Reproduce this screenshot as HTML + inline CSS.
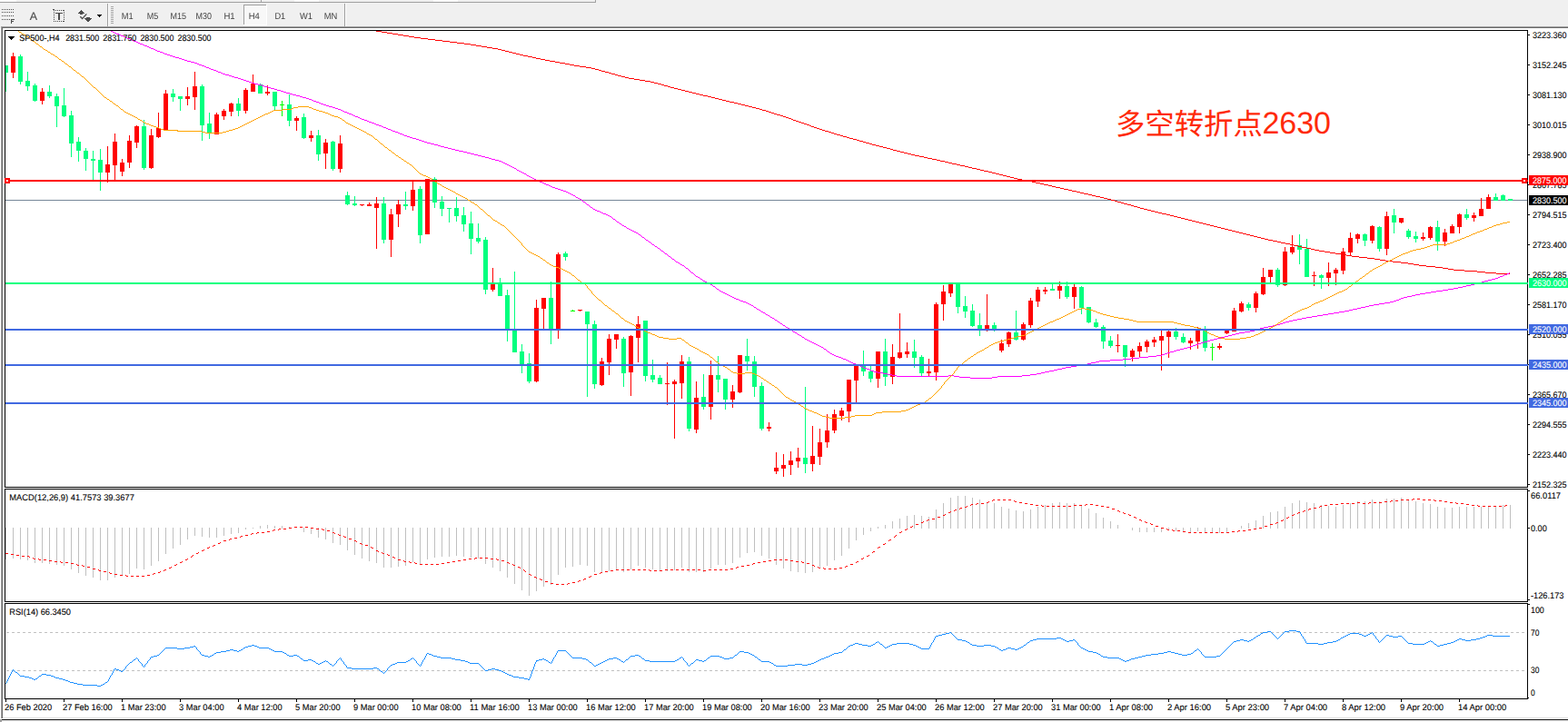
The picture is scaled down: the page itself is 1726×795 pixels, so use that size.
<!DOCTYPE html>
<html><head><meta charset="utf-8"><title>SP500 H4</title>
<style>html,body{margin:0;padding:0;background:#f0f0f0;overflow:hidden}body{width:1726px;height:795px;font-family:"Liberation Sans",sans-serif}svg{display:block}</style>
</head><body>
<svg width="1726" height="795" viewBox="0 0 1726 795" shape-rendering="crispEdges" font-family="Liberation Sans, sans-serif" text-rendering="geometricPrecision">
<rect x="0" y="0" width="1726" height="795" fill="#f0f0f0"/>
<rect x="0" y="0" width="18" height="2" fill="#fbfbfb"/>
<rect x="324" y="0" width="27" height="2" fill="#fbfbfb"/>
<rect x="477" y="0" width="27" height="2" fill="#fbfbfb"/>
<rect x="0" y="2" width="656" height="1" fill="#a0a0a0"/>
<rect x="287" y="0" width="1" height="3" fill="#a0a0a0"/>
<rect x="655" y="0" width="1" height="3" fill="#a0a0a0"/>
<rect x="0" y="31" width="1726" height="760" fill="#ffffff"/>
<rect x="0" y="29" width="1726" height="1" fill="#a0a0a0"/>
<rect x="0" y="30" width="1726" height="1" fill="#696969"/>
<rect x="1" y="30" width="1" height="761" fill="#a0a0a0"/>
<rect x="2" y="31" width="1" height="760" fill="#696969"/>
<rect x="0" y="29" width="1" height="2" fill="#f0f0f0"/>
<rect x="3" y="790" width="1723" height="1" fill="#e3e3e3"/>
<rect x="0" y="791" width="1726" height="1" fill="#ffffff"/>
<rect x="0" y="792" width="1726" height="1" fill="#101010"/>
<rect x="0" y="793" width="1726" height="2" fill="#f0f0f0"/>
<rect x="0" y="792" width="2" height="3" fill="#a0a0a0"/>
<defs><filter id="gs" x="0" y="0" width="100%" height="100%" color-interpolation-filters="sRGB"><feColorMatrix type="saturate" values="0"/></filter></defs><g filter="url(#gs)">
<rect x="2" y="10" width="1" height="1" fill="#4d4d4d"/>
<rect x="4" y="10" width="1" height="1" fill="#4d4d4d"/>
<rect x="6" y="10" width="1" height="1" fill="#4d4d4d"/>
<rect x="8" y="10" width="1" height="1" fill="#4d4d4d"/>
<rect x="10" y="10" width="1" height="1" fill="#4d4d4d"/>
<rect x="12" y="10" width="1" height="1" fill="#4d4d4d"/>
<rect x="14" y="10" width="1" height="1" fill="#4d4d4d"/>
<rect x="2" y="13" width="1" height="1" fill="#4d4d4d"/>
<rect x="4" y="13" width="1" height="1" fill="#4d4d4d"/>
<rect x="6" y="13" width="1" height="1" fill="#4d4d4d"/>
<rect x="8" y="13" width="1" height="1" fill="#4d4d4d"/>
<rect x="10" y="13" width="1" height="1" fill="#4d4d4d"/>
<rect x="12" y="13" width="1" height="1" fill="#4d4d4d"/>
<rect x="14" y="13" width="1" height="1" fill="#4d4d4d"/>
<rect x="2" y="17" width="1" height="1" fill="#4d4d4d"/>
<rect x="4" y="17" width="1" height="1" fill="#4d4d4d"/>
<rect x="6" y="17" width="1" height="1" fill="#4d4d4d"/>
<rect x="8" y="17" width="1" height="1" fill="#4d4d4d"/>
<rect x="10" y="17" width="1" height="1" fill="#4d4d4d"/>
<rect x="12" y="17" width="1" height="1" fill="#4d4d4d"/>
<rect x="14" y="17" width="1" height="1" fill="#4d4d4d"/>
<rect x="2" y="21" width="1" height="1" fill="#4d4d4d"/>
<rect x="4" y="21" width="1" height="1" fill="#4d4d4d"/>
<rect x="6" y="21" width="1" height="1" fill="#4d4d4d"/>
<rect x="8" y="21" width="1" height="1" fill="#4d4d4d"/>
<rect x="10" y="21" width="1" height="1" fill="#4d4d4d"/>
<rect x="12" y="21" width="1" height="5" fill="#4d4d4d"/>
<rect x="12" y="21" width="4" height="1" fill="#4d4d4d"/>
<rect x="12" y="23" width="3" height="1" fill="#4d4d4d"/>
<text x="32.7" y="22" font-size="12.4" fill="#4d4d4d" stroke="#4d4d4d" stroke-width="0.15" shape-rendering="auto">A</text>
<rect x="59" y="11" width="1" height="1" fill="#4d4d4d"/>
<rect x="59" y="23" width="1" height="1" fill="#4d4d4d"/>
<rect x="61" y="11" width="1" height="1" fill="#4d4d4d"/>
<rect x="61" y="23" width="1" height="1" fill="#4d4d4d"/>
<rect x="63" y="11" width="1" height="1" fill="#4d4d4d"/>
<rect x="63" y="23" width="1" height="1" fill="#4d4d4d"/>
<rect x="65" y="11" width="1" height="1" fill="#4d4d4d"/>
<rect x="65" y="23" width="1" height="1" fill="#4d4d4d"/>
<rect x="67" y="11" width="1" height="1" fill="#4d4d4d"/>
<rect x="67" y="23" width="1" height="1" fill="#4d4d4d"/>
<rect x="69" y="11" width="1" height="1" fill="#4d4d4d"/>
<rect x="69" y="23" width="1" height="1" fill="#4d4d4d"/>
<rect x="59" y="11" width="1" height="1" fill="#4d4d4d"/>
<rect x="70" y="11" width="1" height="1" fill="#4d4d4d"/>
<rect x="59" y="13" width="1" height="1" fill="#4d4d4d"/>
<rect x="70" y="13" width="1" height="1" fill="#4d4d4d"/>
<rect x="59" y="15" width="1" height="1" fill="#4d4d4d"/>
<rect x="70" y="15" width="1" height="1" fill="#4d4d4d"/>
<rect x="59" y="17" width="1" height="1" fill="#4d4d4d"/>
<rect x="70" y="17" width="1" height="1" fill="#4d4d4d"/>
<rect x="59" y="19" width="1" height="1" fill="#4d4d4d"/>
<rect x="70" y="19" width="1" height="1" fill="#4d4d4d"/>
<rect x="59" y="21" width="1" height="1" fill="#4d4d4d"/>
<rect x="70" y="21" width="1" height="1" fill="#4d4d4d"/>
<rect x="59" y="23" width="1" height="1" fill="#4d4d4d"/>
<rect x="70" y="23" width="1" height="1" fill="#4d4d4d"/>
<rect x="58" y="10" width="2" height="1" fill="#4d4d4d"/>
<rect x="61" y="14" width="8" height="1" fill="#4d4d4d"/>
<rect x="64" y="15" width="2" height="7" fill="#4d4d4d"/>
<rect x="89" y="11" width="1" height="1" fill="#4d4d4d"/>
<rect x="88" y="12" width="3" height="1" fill="#4d4d4d"/>
<rect x="87" y="13" width="5" height="1" fill="#4d4d4d"/>
<rect x="86" y="14" width="7" height="1" fill="#4d4d4d"/>
<rect x="88" y="15" width="3" height="1" fill="#4d4d4d"/>
<rect x="95" y="19" width="4" height="1" fill="#4d4d4d"/>
<rect x="93" y="20" width="8" height="1" fill="#4d4d4d"/>
<rect x="94" y="21" width="6" height="1" fill="#4d4d4d"/>
<rect x="95" y="22" width="4" height="1" fill="#4d4d4d"/>
<rect x="96" y="23" width="2" height="1" fill="#4d4d4d"/>
<polyline points="88.3,18.3 90.6,20.6 95.3,15.4" fill="none" stroke="#4d4d4d" stroke-width="1.4" shape-rendering="auto"/>
<rect x="107" y="16" width="5" height="1" fill="#000"/>
<rect x="108" y="17" width="3" height="1" fill="#000"/>
<rect x="109" y="18" width="1" height="1" fill="#000"/>
<rect x="118" y="4" width="1" height="25" fill="#a0a0a0"/>
<rect x="119" y="4" width="1" height="25" fill="#ffffff"/>
<rect x="122" y="7" width="3" height="1" fill="#a8a8a8"/>
<rect x="122" y="9" width="3" height="1" fill="#a8a8a8"/>
<rect x="122" y="11" width="3" height="1" fill="#a8a8a8"/>
<rect x="122" y="13" width="3" height="1" fill="#a8a8a8"/>
<rect x="122" y="15" width="3" height="1" fill="#a8a8a8"/>
<rect x="122" y="17" width="3" height="1" fill="#a8a8a8"/>
<rect x="122" y="19" width="3" height="1" fill="#a8a8a8"/>
<rect x="122" y="21" width="3" height="1" fill="#a8a8a8"/>
<rect x="122" y="23" width="3" height="1" fill="#a8a8a8"/>
<rect x="122" y="25" width="3" height="1" fill="#a8a8a8"/>
<rect x="268" y="5" width="26" height="23" fill="#f8f8f8"/>
<rect x="268" y="5" width="26" height="1" fill="#a0a0a0"/>
<rect x="268" y="5" width="1" height="23" fill="#a0a0a0"/>
<rect x="293" y="5" width="1" height="23" fill="#ffffff"/>
<rect x="268" y="27" width="26" height="1" fill="#ffffff"/>
<text x="133.7" y="21" font-size="10" fill="#404040" stroke="#404040" stroke-width="0" textLength="12.9" lengthAdjust="spacingAndGlyphs" >M1</text>
<text x="161.7" y="21" font-size="10" fill="#404040" stroke="#404040" stroke-width="0" textLength="12.5" lengthAdjust="spacingAndGlyphs" >M5</text>
<text x="187.5" y="21" font-size="10" fill="#404040" stroke="#404040" stroke-width="0" textLength="17.5" lengthAdjust="spacingAndGlyphs" >M15</text>
<text x="215.6" y="21" font-size="10" fill="#404040" stroke="#404040" stroke-width="0" textLength="17.4" lengthAdjust="spacingAndGlyphs" >M30</text>
<text x="246.4" y="21" font-size="10" fill="#404040" stroke="#404040" stroke-width="0" textLength="12.2" lengthAdjust="spacingAndGlyphs" >H1</text>
<text x="273.7" y="21" font-size="10" fill="#404040" stroke="#404040" stroke-width="0" textLength="12.1" lengthAdjust="spacingAndGlyphs" >H4</text>
<text x="302.4" y="21" font-size="10" fill="#404040" stroke="#404040" stroke-width="0" textLength="11.8" lengthAdjust="spacingAndGlyphs" >D1</text>
<text x="330" y="21" font-size="10" fill="#404040" stroke="#404040" stroke-width="0" textLength="14" lengthAdjust="spacingAndGlyphs" >W1</text>
<text x="356.7" y="21" font-size="10" fill="#404040" stroke="#404040" stroke-width="0" textLength="14.6" lengthAdjust="spacingAndGlyphs" >MN</text>
<rect x="379" y="4" width="1" height="25" fill="#a0a0a0"/>
<rect x="380" y="4" width="1" height="25" fill="#ffffff"/>
</g>
<defs><clipPath id="cm"><rect x="6" y="34" width="1675" height="502"/></clipPath></defs>
<g clip-path="url(#cm)">
<rect x="6" y="220" width="1675" height="1" fill="#778899"/>
<rect x="6" y="72" width="1" height="29" fill="#00ff7f"/>
<rect x="4" y="72" width="5" height="8" fill="#00ff7f"/>
<rect x="14" y="58" width="1" height="28" fill="#ff0000"/>
<rect x="12" y="62" width="5" height="18" fill="#ff0000"/>
<rect x="22" y="60" width="1" height="33" fill="#00ff7f"/>
<rect x="20" y="62" width="5" height="28" fill="#00ff7f"/>
<rect x="30" y="79" width="1" height="21" fill="#00ff7f"/>
<rect x="28" y="89" width="5" height="6" fill="#00ff7f"/>
<rect x="38" y="92" width="1" height="20" fill="#00ff7f"/>
<rect x="36" y="94" width="5" height="17" fill="#00ff7f"/>
<rect x="46" y="97" width="1" height="18" fill="#ff0000"/>
<rect x="44" y="101" width="5" height="10" fill="#ff0000"/>
<rect x="54" y="94" width="1" height="14" fill="#00ff7f"/>
<rect x="52" y="101" width="5" height="5" fill="#00ff7f"/>
<rect x="62" y="103" width="1" height="37" fill="#00ff7f"/>
<rect x="60" y="106" width="5" height="11" fill="#00ff7f"/>
<rect x="70" y="97" width="1" height="32" fill="#00ff7f"/>
<rect x="68" y="116" width="5" height="12" fill="#00ff7f"/>
<rect x="78" y="122" width="1" height="51" fill="#00ff7f"/>
<rect x="76" y="127" width="5" height="31" fill="#00ff7f"/>
<rect x="86" y="151" width="1" height="27" fill="#00ff7f"/>
<rect x="84" y="156" width="5" height="10" fill="#00ff7f"/>
<rect x="94" y="163" width="1" height="25" fill="#00ff7f"/>
<rect x="92" y="166" width="5" height="9" fill="#00ff7f"/>
<rect x="102" y="166" width="1" height="32" fill="#00ff7f"/>
<rect x="100" y="175" width="5" height="2" fill="#00ff7f"/>
<rect x="110" y="164" width="1" height="46" fill="#00ff7f"/>
<rect x="108" y="176" width="5" height="14" fill="#00ff7f"/>
<rect x="118" y="161" width="1" height="40" fill="#ff0000"/>
<rect x="116" y="181" width="5" height="9" fill="#ff0000"/>
<rect x="126" y="147" width="1" height="51" fill="#ff0000"/>
<rect x="124" y="156" width="5" height="26" fill="#ff0000"/>
<rect x="134" y="175" width="1" height="19" fill="#ff0000"/>
<rect x="132" y="179" width="5" height="10" fill="#ff0000"/>
<rect x="142" y="149" width="1" height="36" fill="#ff0000"/>
<rect x="140" y="155" width="5" height="24" fill="#ff0000"/>
<rect x="150" y="138" width="1" height="25" fill="#ff0000"/>
<rect x="148" y="139" width="5" height="18" fill="#ff0000"/>
<rect x="158" y="132" width="1" height="55" fill="#00ff7f"/>
<rect x="156" y="139" width="5" height="46" fill="#00ff7f"/>
<rect x="166" y="142" width="1" height="44" fill="#ff0000"/>
<rect x="164" y="149" width="5" height="36" fill="#ff0000"/>
<rect x="174" y="124" width="1" height="28" fill="#ff0000"/>
<rect x="172" y="141" width="5" height="10" fill="#ff0000"/>
<rect x="182" y="99" width="1" height="45" fill="#ff0000"/>
<rect x="180" y="103" width="5" height="41" fill="#ff0000"/>
<rect x="190" y="98" width="1" height="14" fill="#00ff7f"/>
<rect x="188" y="103" width="5" height="4" fill="#00ff7f"/>
<rect x="198" y="106" width="1" height="16" fill="#00ff7f"/>
<rect x="196" y="106" width="5" height="3" fill="#00ff7f"/>
<rect x="206" y="96" width="1" height="20" fill="#ff0000"/>
<rect x="204" y="106" width="5" height="3" fill="#ff0000"/>
<rect x="214" y="79" width="1" height="42" fill="#ff0000"/>
<rect x="212" y="95" width="5" height="12" fill="#ff0000"/>
<rect x="222" y="93" width="1" height="62" fill="#00ff7f"/>
<rect x="220" y="95" width="5" height="43" fill="#00ff7f"/>
<rect x="230" y="124" width="1" height="29" fill="#00ff7f"/>
<rect x="228" y="136" width="5" height="10" fill="#00ff7f"/>
<rect x="238" y="124" width="1" height="24" fill="#ff0000"/>
<rect x="236" y="126" width="5" height="22" fill="#ff0000"/>
<rect x="246" y="120" width="1" height="12" fill="#ff0000"/>
<rect x="244" y="122" width="5" height="6" fill="#ff0000"/>
<rect x="254" y="113" width="1" height="15" fill="#ff0000"/>
<rect x="252" y="114" width="5" height="9" fill="#ff0000"/>
<rect x="262" y="108" width="1" height="20" fill="#00ff7f"/>
<rect x="260" y="114" width="5" height="8" fill="#00ff7f"/>
<rect x="270" y="97" width="1" height="28" fill="#ff0000"/>
<rect x="268" y="99" width="5" height="23" fill="#ff0000"/>
<rect x="278" y="82" width="1" height="19" fill="#ff0000"/>
<rect x="276" y="92" width="5" height="9" fill="#ff0000"/>
<rect x="286" y="92" width="1" height="11" fill="#00ff7f"/>
<rect x="284" y="93" width="5" height="10" fill="#00ff7f"/>
<rect x="294" y="94" width="1" height="11" fill="#ff0000"/>
<rect x="292" y="101" width="5" height="2" fill="#ff0000"/>
<rect x="302" y="101" width="1" height="20" fill="#00ff7f"/>
<rect x="300" y="101" width="5" height="16" fill="#00ff7f"/>
<rect x="310" y="111" width="1" height="17" fill="#00ff00"/>
<rect x="308" y="115" width="5" height="1" fill="#00ff00"/>
<rect x="318" y="104" width="1" height="35" fill="#00ff7f"/>
<rect x="316" y="115" width="5" height="18" fill="#00ff7f"/>
<rect x="326" y="128" width="1" height="16" fill="#ff0000"/>
<rect x="324" y="130" width="5" height="3" fill="#ff0000"/>
<rect x="334" y="125" width="1" height="28" fill="#00ff7f"/>
<rect x="332" y="129" width="5" height="23" fill="#00ff7f"/>
<rect x="342" y="144" width="1" height="12" fill="#ff0000"/>
<rect x="340" y="149" width="5" height="3" fill="#ff0000"/>
<rect x="350" y="143" width="1" height="34" fill="#00ff7f"/>
<rect x="348" y="149" width="5" height="21" fill="#00ff7f"/>
<rect x="358" y="153" width="1" height="33" fill="#ff0000"/>
<rect x="356" y="157" width="5" height="12" fill="#ff0000"/>
<rect x="366" y="155" width="1" height="33" fill="#00ff7f"/>
<rect x="364" y="156" width="5" height="30" fill="#00ff7f"/>
<rect x="374" y="149" width="1" height="41" fill="#ff0000"/>
<rect x="372" y="158" width="5" height="28" fill="#ff0000"/>
<rect x="382" y="211" width="1" height="15" fill="#00ff7f"/>
<rect x="380" y="215" width="5" height="10" fill="#00ff7f"/>
<rect x="390" y="216" width="1" height="11" fill="#00ff7f"/>
<rect x="388" y="224" width="5" height="2" fill="#00ff7f"/>
<rect x="398" y="225" width="1" height="2" fill="#ff0000"/>
<rect x="396" y="225" width="5" height="1" fill="#ff0000"/>
<rect x="406" y="223" width="1" height="4" fill="#ff0000"/>
<rect x="404" y="225" width="5" height="2" fill="#ff0000"/>
<rect x="414" y="217" width="1" height="57" fill="#ff0000"/>
<rect x="412" y="224" width="5" height="5" fill="#ff0000"/>
<rect x="422" y="217" width="1" height="51" fill="#00ff7f"/>
<rect x="420" y="224" width="5" height="40" fill="#00ff7f"/>
<rect x="430" y="230" width="1" height="53" fill="#ff0000"/>
<rect x="428" y="236" width="5" height="28" fill="#ff0000"/>
<rect x="438" y="220" width="1" height="30" fill="#ff0000"/>
<rect x="436" y="225" width="5" height="11" fill="#ff0000"/>
<rect x="446" y="211" width="1" height="20" fill="#00ff7f"/>
<rect x="444" y="225" width="5" height="2" fill="#00ff7f"/>
<rect x="454" y="200" width="1" height="32" fill="#ff0000"/>
<rect x="452" y="209" width="5" height="18" fill="#ff0000"/>
<rect x="462" y="205" width="1" height="63" fill="#00ff7f"/>
<rect x="460" y="208" width="5" height="51" fill="#00ff7f"/>
<rect x="470" y="197" width="1" height="61" fill="#ff0000"/>
<rect x="468" y="197" width="5" height="61" fill="#ff0000"/>
<rect x="478" y="195" width="1" height="34" fill="#00ff7f"/>
<rect x="476" y="197" width="5" height="26" fill="#00ff7f"/>
<rect x="486" y="216" width="1" height="22" fill="#00ff7f"/>
<rect x="484" y="222" width="5" height="8" fill="#00ff7f"/>
<rect x="494" y="229" width="1" height="16" fill="#00ff7f"/>
<rect x="492" y="229" width="5" height="1" fill="#00ff7f"/>
<rect x="502" y="217" width="1" height="27" fill="#00ff7f"/>
<rect x="500" y="229" width="5" height="9" fill="#00ff7f"/>
<rect x="510" y="228" width="1" height="27" fill="#00ff7f"/>
<rect x="508" y="237" width="5" height="10" fill="#00ff7f"/>
<rect x="518" y="233" width="1" height="47" fill="#00ff7f"/>
<rect x="516" y="246" width="5" height="17" fill="#00ff7f"/>
<rect x="526" y="246" width="1" height="22" fill="#00ff7f"/>
<rect x="524" y="262" width="5" height="4" fill="#00ff7f"/>
<rect x="534" y="261" width="1" height="63" fill="#00ff7f"/>
<rect x="532" y="264" width="5" height="55" fill="#00ff7f"/>
<rect x="542" y="295" width="1" height="26" fill="#ff0000"/>
<rect x="540" y="313" width="5" height="6" fill="#ff0000"/>
<rect x="550" y="306" width="1" height="20" fill="#00ff7f"/>
<rect x="548" y="313" width="5" height="13" fill="#00ff7f"/>
<rect x="558" y="319" width="1" height="57" fill="#00ff7f"/>
<rect x="556" y="325" width="5" height="39" fill="#00ff7f"/>
<rect x="566" y="299" width="1" height="89" fill="#00ff7f"/>
<rect x="564" y="363" width="5" height="25" fill="#00ff7f"/>
<rect x="574" y="379" width="1" height="32" fill="#00ff7f"/>
<rect x="572" y="387" width="5" height="15" fill="#00ff7f"/>
<rect x="582" y="389" width="1" height="33" fill="#00ff7f"/>
<rect x="580" y="400" width="5" height="20" fill="#00ff7f"/>
<rect x="590" y="330" width="1" height="91" fill="#ff0000"/>
<rect x="588" y="339" width="5" height="81" fill="#ff0000"/>
<rect x="598" y="328" width="1" height="35" fill="#ff0000"/>
<rect x="596" y="328" width="5" height="12" fill="#ff0000"/>
<rect x="606" y="310" width="1" height="69" fill="#00ff7f"/>
<rect x="604" y="328" width="5" height="35" fill="#00ff7f"/>
<rect x="614" y="278" width="1" height="95" fill="#ff0000"/>
<rect x="612" y="280" width="5" height="83" fill="#ff0000"/>
<rect x="622" y="277" width="1" height="10" fill="#00ff7f"/>
<rect x="620" y="279" width="5" height="4" fill="#00ff7f"/>
<rect x="630" y="341" width="1" height="2" fill="#00ff00"/>
<rect x="628" y="342" width="5" height="1" fill="#00ff00"/>
<rect x="638" y="341" width="1" height="2" fill="#ff0000"/>
<rect x="636" y="341" width="5" height="1" fill="#ff0000"/>
<rect x="646" y="343" width="1" height="94" fill="#00ff7f"/>
<rect x="644" y="343" width="5" height="14" fill="#00ff7f"/>
<rect x="654" y="353" width="1" height="75" fill="#00ff7f"/>
<rect x="652" y="357" width="5" height="66" fill="#00ff7f"/>
<rect x="662" y="394" width="1" height="31" fill="#ff0000"/>
<rect x="660" y="398" width="5" height="26" fill="#ff0000"/>
<rect x="670" y="368" width="1" height="45" fill="#ff0000"/>
<rect x="668" y="373" width="5" height="26" fill="#ff0000"/>
<rect x="678" y="368" width="1" height="16" fill="#ff0000"/>
<rect x="676" y="368" width="5" height="6" fill="#ff0000"/>
<rect x="686" y="371" width="1" height="55" fill="#00ff7f"/>
<rect x="684" y="373" width="5" height="38" fill="#00ff7f"/>
<rect x="694" y="369" width="1" height="67" fill="#ff0000"/>
<rect x="692" y="370" width="5" height="40" fill="#ff0000"/>
<rect x="702" y="348" width="1" height="51" fill="#ff0000"/>
<rect x="700" y="357" width="5" height="15" fill="#ff0000"/>
<rect x="710" y="353" width="1" height="67" fill="#00ff7f"/>
<rect x="708" y="353" width="5" height="61" fill="#00ff7f"/>
<rect x="718" y="396" width="1" height="25" fill="#00ff7f"/>
<rect x="716" y="413" width="5" height="5" fill="#00ff7f"/>
<rect x="726" y="413" width="1" height="10" fill="#00ff7f"/>
<rect x="724" y="416" width="5" height="7" fill="#00ff7f"/>
<rect x="734" y="399" width="1" height="47" fill="#ff0000"/>
<rect x="732" y="422" width="5" height="1" fill="#ff0000"/>
<rect x="742" y="418" width="1" height="65" fill="#ff0000"/>
<rect x="740" y="420" width="5" height="3" fill="#ff0000"/>
<rect x="750" y="391" width="1" height="48" fill="#ff0000"/>
<rect x="748" y="398" width="5" height="24" fill="#ff0000"/>
<rect x="758" y="393" width="1" height="82" fill="#00ff7f"/>
<rect x="756" y="398" width="5" height="74" fill="#00ff7f"/>
<rect x="766" y="420" width="1" height="57" fill="#ff0000"/>
<rect x="764" y="438" width="5" height="35" fill="#ff0000"/>
<rect x="774" y="412" width="1" height="39" fill="#00ff7f"/>
<rect x="772" y="437" width="5" height="11" fill="#00ff7f"/>
<rect x="782" y="397" width="1" height="65" fill="#ff0000"/>
<rect x="780" y="413" width="5" height="35" fill="#ff0000"/>
<rect x="790" y="392" width="1" height="40" fill="#00ff7f"/>
<rect x="788" y="413" width="5" height="5" fill="#00ff7f"/>
<rect x="798" y="417" width="1" height="34" fill="#00ff7f"/>
<rect x="796" y="417" width="5" height="23" fill="#00ff7f"/>
<rect x="806" y="424" width="1" height="25" fill="#ff0000"/>
<rect x="804" y="431" width="5" height="9" fill="#ff0000"/>
<rect x="814" y="391" width="1" height="42" fill="#ff0000"/>
<rect x="812" y="391" width="5" height="41" fill="#ff0000"/>
<rect x="822" y="373" width="1" height="35" fill="#00ff7f"/>
<rect x="820" y="392" width="5" height="6" fill="#00ff7f"/>
<rect x="830" y="392" width="1" height="45" fill="#00ff7f"/>
<rect x="828" y="398" width="5" height="28" fill="#00ff7f"/>
<rect x="838" y="421" width="1" height="53" fill="#00ff7f"/>
<rect x="836" y="425" width="5" height="47" fill="#00ff7f"/>
<rect x="846" y="465" width="1" height="10" fill="#ff0000"/>
<rect x="844" y="470" width="5" height="2" fill="#ff0000"/>
<rect x="854" y="498" width="1" height="24" fill="#ff0000"/>
<rect x="852" y="515" width="5" height="4" fill="#ff0000"/>
<rect x="862" y="500" width="1" height="25" fill="#ff0000"/>
<rect x="860" y="512" width="5" height="4" fill="#ff0000"/>
<rect x="870" y="497" width="1" height="26" fill="#ff0000"/>
<rect x="868" y="507" width="5" height="5" fill="#ff0000"/>
<rect x="878" y="493" width="1" height="22" fill="#ff0000"/>
<rect x="876" y="504" width="5" height="4" fill="#ff0000"/>
<rect x="886" y="426" width="1" height="95" fill="#00ff7f"/>
<rect x="884" y="504" width="5" height="7" fill="#00ff7f"/>
<rect x="894" y="469" width="1" height="50" fill="#ff0000"/>
<rect x="892" y="502" width="5" height="9" fill="#ff0000"/>
<rect x="902" y="472" width="1" height="40" fill="#ff0000"/>
<rect x="900" y="487" width="5" height="16" fill="#ff0000"/>
<rect x="910" y="456" width="1" height="37" fill="#ff0000"/>
<rect x="908" y="474" width="5" height="13" fill="#ff0000"/>
<rect x="918" y="451" width="1" height="26" fill="#ff0000"/>
<rect x="916" y="456" width="5" height="18" fill="#ff0000"/>
<rect x="926" y="449" width="1" height="14" fill="#ff0000"/>
<rect x="924" y="452" width="5" height="6" fill="#ff0000"/>
<rect x="934" y="418" width="1" height="47" fill="#ff0000"/>
<rect x="932" y="418" width="5" height="35" fill="#ff0000"/>
<rect x="942" y="401" width="1" height="42" fill="#ff0000"/>
<rect x="940" y="402" width="5" height="17" fill="#ff0000"/>
<rect x="950" y="386" width="1" height="28" fill="#00ff7f"/>
<rect x="948" y="403" width="5" height="6" fill="#00ff7f"/>
<rect x="958" y="402" width="1" height="19" fill="#00ff7f"/>
<rect x="956" y="409" width="5" height="8" fill="#00ff7f"/>
<rect x="966" y="387" width="1" height="40" fill="#ff0000"/>
<rect x="964" y="387" width="5" height="30" fill="#ff0000"/>
<rect x="974" y="373" width="1" height="52" fill="#00ff7f"/>
<rect x="972" y="387" width="5" height="28" fill="#00ff7f"/>
<rect x="982" y="379" width="1" height="44" fill="#ff0000"/>
<rect x="980" y="393" width="5" height="22" fill="#ff0000"/>
<rect x="990" y="345" width="1" height="50" fill="#ff0000"/>
<rect x="988" y="388" width="5" height="6" fill="#ff0000"/>
<rect x="998" y="377" width="1" height="17" fill="#ff0000"/>
<rect x="996" y="387" width="5" height="3" fill="#ff0000"/>
<rect x="1006" y="374" width="1" height="31" fill="#00ff7f"/>
<rect x="1004" y="387" width="5" height="7" fill="#00ff7f"/>
<rect x="1014" y="391" width="1" height="23" fill="#00ff7f"/>
<rect x="1012" y="393" width="5" height="18" fill="#00ff7f"/>
<rect x="1022" y="395" width="1" height="19" fill="#ff0000"/>
<rect x="1020" y="409" width="5" height="2" fill="#ff0000"/>
<rect x="1030" y="333" width="1" height="86" fill="#ff0000"/>
<rect x="1028" y="335" width="5" height="75" fill="#ff0000"/>
<rect x="1038" y="314" width="1" height="39" fill="#ff0000"/>
<rect x="1036" y="321" width="5" height="14" fill="#ff0000"/>
<rect x="1046" y="313" width="1" height="14" fill="#ff0000"/>
<rect x="1044" y="313" width="5" height="10" fill="#ff0000"/>
<rect x="1054" y="313" width="1" height="32" fill="#00ff7f"/>
<rect x="1052" y="313" width="5" height="25" fill="#00ff7f"/>
<rect x="1062" y="326" width="1" height="24" fill="#00ff7f"/>
<rect x="1060" y="337" width="5" height="6" fill="#00ff7f"/>
<rect x="1070" y="335" width="1" height="25" fill="#00ff7f"/>
<rect x="1068" y="342" width="5" height="17" fill="#00ff7f"/>
<rect x="1078" y="345" width="1" height="25" fill="#00ff7f"/>
<rect x="1076" y="358" width="5" height="6" fill="#00ff7f"/>
<rect x="1086" y="324" width="1" height="41" fill="#ff0000"/>
<rect x="1084" y="358" width="5" height="6" fill="#ff0000"/>
<rect x="1094" y="355" width="1" height="10" fill="#00ff7f"/>
<rect x="1092" y="358" width="5" height="6" fill="#00ff7f"/>
<rect x="1102" y="374" width="1" height="14" fill="#ff0000"/>
<rect x="1100" y="378" width="5" height="8" fill="#ff0000"/>
<rect x="1110" y="365" width="1" height="17" fill="#ff0000"/>
<rect x="1108" y="366" width="5" height="13" fill="#ff0000"/>
<rect x="1118" y="342" width="1" height="33" fill="#00ff7f"/>
<rect x="1116" y="366" width="5" height="8" fill="#00ff7f"/>
<rect x="1126" y="355" width="1" height="20" fill="#ff0000"/>
<rect x="1124" y="357" width="5" height="17" fill="#ff0000"/>
<rect x="1134" y="328" width="1" height="33" fill="#ff0000"/>
<rect x="1132" y="331" width="5" height="27" fill="#ff0000"/>
<rect x="1142" y="316" width="1" height="22" fill="#ff0000"/>
<rect x="1140" y="319" width="5" height="13" fill="#ff0000"/>
<rect x="1150" y="316" width="1" height="8" fill="#ff0000"/>
<rect x="1148" y="319" width="5" height="2" fill="#ff0000"/>
<rect x="1158" y="313" width="1" height="7" fill="#00ff7f"/>
<rect x="1156" y="318" width="5" height="2" fill="#00ff7f"/>
<rect x="1166" y="310" width="1" height="19" fill="#ff0000"/>
<rect x="1164" y="315" width="5" height="5" fill="#ff0000"/>
<rect x="1174" y="310" width="1" height="19" fill="#00ff7f"/>
<rect x="1172" y="315" width="5" height="12" fill="#00ff7f"/>
<rect x="1182" y="313" width="1" height="27" fill="#ff0000"/>
<rect x="1180" y="316" width="5" height="11" fill="#ff0000"/>
<rect x="1190" y="315" width="1" height="31" fill="#00ff7f"/>
<rect x="1188" y="316" width="5" height="23" fill="#00ff7f"/>
<rect x="1198" y="338" width="1" height="18" fill="#00ff7f"/>
<rect x="1196" y="338" width="5" height="17" fill="#00ff7f"/>
<rect x="1206" y="351" width="1" height="10" fill="#00ff7f"/>
<rect x="1204" y="355" width="5" height="5" fill="#00ff7f"/>
<rect x="1214" y="358" width="1" height="26" fill="#00ff7f"/>
<rect x="1212" y="360" width="5" height="16" fill="#00ff7f"/>
<rect x="1222" y="370" width="1" height="13" fill="#00ff7f"/>
<rect x="1220" y="375" width="5" height="6" fill="#00ff7f"/>
<rect x="1230" y="368" width="1" height="20" fill="#ff0000"/>
<rect x="1228" y="380" width="5" height="1" fill="#ff0000"/>
<rect x="1238" y="380" width="1" height="24" fill="#00ff7f"/>
<rect x="1236" y="380" width="5" height="13" fill="#00ff7f"/>
<rect x="1246" y="384" width="1" height="14" fill="#ff0000"/>
<rect x="1244" y="386" width="5" height="7" fill="#ff0000"/>
<rect x="1254" y="377" width="1" height="16" fill="#ff0000"/>
<rect x="1252" y="381" width="5" height="6" fill="#ff0000"/>
<rect x="1262" y="374" width="1" height="14" fill="#ff0000"/>
<rect x="1260" y="376" width="5" height="6" fill="#ff0000"/>
<rect x="1270" y="371" width="1" height="11" fill="#ff0000"/>
<rect x="1268" y="374" width="5" height="3" fill="#ff0000"/>
<rect x="1278" y="364" width="1" height="44" fill="#ff0000"/>
<rect x="1276" y="370" width="5" height="5" fill="#ff0000"/>
<rect x="1286" y="364" width="1" height="30" fill="#ff0000"/>
<rect x="1284" y="365" width="5" height="6" fill="#ff0000"/>
<rect x="1294" y="361" width="1" height="13" fill="#00ff7f"/>
<rect x="1292" y="365" width="5" height="6" fill="#00ff7f"/>
<rect x="1302" y="367" width="1" height="11" fill="#00ff7f"/>
<rect x="1300" y="371" width="5" height="6" fill="#00ff7f"/>
<rect x="1310" y="372" width="1" height="13" fill="#ff0000"/>
<rect x="1308" y="375" width="5" height="3" fill="#ff0000"/>
<rect x="1318" y="360" width="1" height="24" fill="#ff0000"/>
<rect x="1316" y="363" width="5" height="13" fill="#ff0000"/>
<rect x="1326" y="359" width="1" height="28" fill="#00ff7f"/>
<rect x="1324" y="364" width="5" height="19" fill="#00ff7f"/>
<rect x="1334" y="378" width="1" height="19" fill="#00ff00"/>
<rect x="1332" y="382" width="5" height="1" fill="#00ff00"/>
<rect x="1342" y="378" width="1" height="7" fill="#ff0000"/>
<rect x="1340" y="381" width="5" height="2" fill="#ff0000"/>
<rect x="1350" y="363" width="1" height="5" fill="#ff0000"/>
<rect x="1348" y="364" width="5" height="3" fill="#ff0000"/>
<rect x="1358" y="339" width="1" height="26" fill="#ff0000"/>
<rect x="1356" y="342" width="5" height="23" fill="#ff0000"/>
<rect x="1366" y="332" width="1" height="12" fill="#ff0000"/>
<rect x="1364" y="334" width="5" height="9" fill="#ff0000"/>
<rect x="1374" y="333" width="1" height="9" fill="#00ff7f"/>
<rect x="1372" y="335" width="5" height="4" fill="#00ff7f"/>
<rect x="1382" y="321" width="1" height="23" fill="#ff0000"/>
<rect x="1380" y="323" width="5" height="16" fill="#ff0000"/>
<rect x="1390" y="295" width="1" height="30" fill="#ff0000"/>
<rect x="1388" y="305" width="5" height="19" fill="#ff0000"/>
<rect x="1398" y="297" width="1" height="15" fill="#ff0000"/>
<rect x="1396" y="297" width="5" height="8" fill="#ff0000"/>
<rect x="1406" y="295" width="1" height="21" fill="#00ff7f"/>
<rect x="1404" y="297" width="5" height="17" fill="#00ff7f"/>
<rect x="1414" y="272" width="1" height="43" fill="#ff0000"/>
<rect x="1412" y="277" width="5" height="37" fill="#ff0000"/>
<rect x="1422" y="259" width="1" height="21" fill="#ff0000"/>
<rect x="1420" y="272" width="5" height="6" fill="#ff0000"/>
<rect x="1430" y="258" width="1" height="33" fill="#00ff7f"/>
<rect x="1428" y="270" width="5" height="5" fill="#00ff7f"/>
<rect x="1438" y="263" width="1" height="42" fill="#00ff7f"/>
<rect x="1436" y="274" width="5" height="31" fill="#00ff7f"/>
<rect x="1446" y="299" width="1" height="16" fill="#ff0000"/>
<rect x="1444" y="303" width="5" height="1" fill="#ff0000"/>
<rect x="1454" y="302" width="1" height="16" fill="#00ff7f"/>
<rect x="1452" y="303" width="5" height="3" fill="#00ff7f"/>
<rect x="1462" y="289" width="1" height="26" fill="#ff0000"/>
<rect x="1460" y="300" width="5" height="6" fill="#ff0000"/>
<rect x="1470" y="295" width="1" height="19" fill="#ff0000"/>
<rect x="1468" y="297" width="5" height="4" fill="#ff0000"/>
<rect x="1478" y="273" width="1" height="29" fill="#ff0000"/>
<rect x="1476" y="277" width="5" height="21" fill="#ff0000"/>
<rect x="1486" y="256" width="1" height="25" fill="#ff0000"/>
<rect x="1484" y="262" width="5" height="16" fill="#ff0000"/>
<rect x="1494" y="257" width="1" height="11" fill="#ff0000"/>
<rect x="1492" y="258" width="5" height="5" fill="#ff0000"/>
<rect x="1502" y="257" width="1" height="14" fill="#00ff7f"/>
<rect x="1500" y="258" width="5" height="7" fill="#00ff7f"/>
<rect x="1510" y="248" width="1" height="20" fill="#ff0000"/>
<rect x="1508" y="249" width="5" height="16" fill="#ff0000"/>
<rect x="1518" y="249" width="1" height="28" fill="#00ff7f"/>
<rect x="1516" y="250" width="5" height="24" fill="#00ff7f"/>
<rect x="1526" y="233" width="1" height="48" fill="#ff0000"/>
<rect x="1524" y="238" width="5" height="36" fill="#ff0000"/>
<rect x="1534" y="230" width="1" height="27" fill="#00ff7f"/>
<rect x="1532" y="237" width="5" height="8" fill="#00ff7f"/>
<rect x="1542" y="240" width="1" height="6" fill="#ff0000"/>
<rect x="1540" y="240" width="5" height="5" fill="#ff0000"/>
<rect x="1550" y="252" width="1" height="11" fill="#00ff7f"/>
<rect x="1548" y="254" width="5" height="7" fill="#00ff7f"/>
<rect x="1558" y="255" width="1" height="12" fill="#00ff7f"/>
<rect x="1556" y="260" width="5" height="3" fill="#00ff7f"/>
<rect x="1566" y="256" width="1" height="9" fill="#ff0000"/>
<rect x="1564" y="261" width="5" height="2" fill="#ff0000"/>
<rect x="1574" y="249" width="1" height="15" fill="#ff0000"/>
<rect x="1572" y="250" width="5" height="12" fill="#ff0000"/>
<rect x="1582" y="243" width="1" height="33" fill="#00ff7f"/>
<rect x="1580" y="250" width="5" height="16" fill="#00ff7f"/>
<rect x="1590" y="252" width="1" height="19" fill="#ff0000"/>
<rect x="1588" y="256" width="5" height="10" fill="#ff0000"/>
<rect x="1598" y="247" width="1" height="10" fill="#ff0000"/>
<rect x="1596" y="249" width="5" height="8" fill="#ff0000"/>
<rect x="1606" y="235" width="1" height="22" fill="#ff0000"/>
<rect x="1604" y="236" width="5" height="14" fill="#ff0000"/>
<rect x="1614" y="230" width="1" height="12" fill="#00ff7f"/>
<rect x="1612" y="236" width="5" height="4" fill="#00ff7f"/>
<rect x="1622" y="234" width="1" height="10" fill="#ff0000"/>
<rect x="1620" y="237" width="5" height="3" fill="#ff0000"/>
<rect x="1630" y="218" width="1" height="20" fill="#ff0000"/>
<rect x="1628" y="230" width="5" height="8" fill="#ff0000"/>
<rect x="1638" y="214" width="1" height="16" fill="#ff0000"/>
<rect x="1636" y="217" width="5" height="13" fill="#ff0000"/>
<rect x="1646" y="213" width="1" height="8" fill="#00ff7f"/>
<rect x="1644" y="217" width="5" height="4" fill="#00ff7f"/>
<rect x="1654" y="214" width="1" height="7" fill="#00ff7f"/>
<rect x="1652" y="215" width="5" height="6" fill="#00ff7f"/>
<rect x="1662" y="219" width="1" height="2" fill="#00ff7f"/>
<rect x="1660" y="219" width="5" height="2" fill="#00ff7f"/>
<path d="M408 33.5h6M414 34.5h6M420 35.5h6M426 36.5h6M432 37.5h6M438 38.5h6M444 39.5h6M450 40.5h6M456 41.5h7M463 42.5h8M471 43.5h8M479 44.5h8M487 45.5h8M495 46.5h8M503 47.5h8M511 48.5h7M518 49.5h6M524 50.5h6M530 51.5h6M536 52.5h6M542 53.5h6M548 54.5h4M552 55.5h4M556 56.5h4M560 57.5h4M564 58.5h4M568 59.5h4M572 60.5h4M576 61.5h5M581 62.5h5M586 63.5h4M590 64.5h5M595 65.5h5M600 66.5h5M605 67.5h6M611 68.5h5M616 69.5h6M622 70.5h5M627 71.5h5M632 72.5h6M638 73.5h7M645 74.5h6M651 75.5h4M655 76.5h4M659 77.5h3M662 78.5h4M666 79.5h4M670 80.5h3M673 81.5h4M677 82.5h3M680 83.5h4M684 84.5h4M688 85.5h4M692 86.5h6M698 87.5h6M704 88.5h6M710 89.5h6M716 90.5h4M720 91.5h4M724 92.5h4M728 93.5h3M731 94.5h4M735 95.5h3M738 96.5h4M742 97.5h4M746 98.5h4M750 99.5h4M754 100.5h4M758 101.5h4M762 102.5h4M766 103.5h4M770 104.5h4M774 105.5h5M779 106.5h4M783 107.5h4M787 108.5h4M791 109.5h4M795 110.5h4M799 111.5h4M803 112.5h5M808 113.5h4M812 114.5h4M816 115.5h4M820 116.5h4M824 117.5h4M828 118.5h4M832 119.5h4M836 120.5h3M839 121.5h4M843 122.5h3M846 123.5h3M849 124.5h3M852 125.5h3M855 126.5h4M859 127.5h3M862 128.5h3M865 129.5h3M868 130.5h3M871 131.5h2M873 132.5h3M876 133.5h3M879 134.5h3M882 135.5h3M885 136.5h3M888 137.5h3M891 138.5h2M893 139.5h3M896 140.5h3M899 141.5h3M902 142.5h3M905 143.5h3M908 144.5h4M912 145.5h3M915 146.5h3M918 147.5h3M921 148.5h4M925 149.5h3M928 150.5h4M932 151.5h3M935 152.5h4M939 153.5h4M943 154.5h3M946 155.5h4M950 156.5h3M953 157.5h4M957 158.5h3M960 159.5h4M964 160.5h4M968 161.5h4M972 162.5h4M976 163.5h4M980 164.5h3M983 165.5h4M987 166.5h4M991 167.5h4M995 168.5h4M999 169.5h4M1003 170.5h4M1007 171.5h5M1012 172.5h5M1017 173.5h4M1021 174.5h5M1026 175.5h5M1031 176.5h4M1035 177.5h5M1040 178.5h4M1044 179.5h4M1048 180.5h5M1053 181.5h4M1057 182.5h5M1062 183.5h4M1066 184.5h4M1070 185.5h5M1075 186.5h4M1079 187.5h4M1083 188.5h5M1088 189.5h4M1092 190.5h4M1096 191.5h4M1100 192.5h4M1104 193.5h4M1108 194.5h4M1112 195.5h4M1116 196.5h4M1120 197.5h5M1125 198.5h6M1131 199.5h5M1136 200.5h4M1140 201.5h5M1145 202.5h4M1149 203.5h5M1154 204.5h4M1158 205.5h4M1162 206.5h5M1167 207.5h4M1171 208.5h5M1176 209.5h4M1180 210.5h5M1185 211.5h4M1189 212.5h4M1193 213.5h5M1198 214.5h4M1202 215.5h4M1206 216.5h5M1211 217.5h4M1215 218.5h4M1219 219.5h4M1223 220.5h4M1227 221.5h3M1230 222.5h4M1234 223.5h3M1237 224.5h4M1241 225.5h4M1245 226.5h3M1248 227.5h4M1252 228.5h3M1255 229.5h4M1259 230.5h4M1263 231.5h4M1267 232.5h4M1271 233.5h4M1275 234.5h4M1279 235.5h5M1284 236.5h4M1288 237.5h4M1292 238.5h4M1296 239.5h4M1300 240.5h4M1304 241.5h4M1308 242.5h4M1312 243.5h4M1316 244.5h4M1320 245.5h4M1324 246.5h4M1328 247.5h4M1332 248.5h4M1336 249.5h4M1340 250.5h4M1344 251.5h4M1348 252.5h4M1352 253.5h4M1356 254.5h4M1360 255.5h4M1364 256.5h4M1368 257.5h4M1372 258.5h4M1376 259.5h4M1380 260.5h4M1384 261.5h4M1388 262.5h4M1392 263.5h4M1396 264.5h5M1401 265.5h5M1406 266.5h4M1410 267.5h5M1415 268.5h5M1420 269.5h4M1424 270.5h5M1429 271.5h4M1433 272.5h5M1438 273.5h5M1443 274.5h4M1447 275.5h5M1452 276.5h6M1458 277.5h6M1464 278.5h6M1470 279.5h6M1476 280.5h6M1482 281.5h6M1488 282.5h8M1496 283.5h9M1505 284.5h8M1513 285.5h6M1519 286.5h6M1525 287.5h8M1533 288.5h9M1542 289.5h8M1550 290.5h6M1556 291.5h6M1562 292.5h8M1570 293.5h10M1580 294.5h8M1588 295.5h6M1594 296.5h6M1600 297.5h12M1612 298.5h14M1626 299.5h9M1635 300.5h12M1647 301.5h15" fill="none" stroke="#ff0000" stroke-width="1" />
<path d="M122 34.5h2M124 35.5h2M126 36.5h2M128 37.5h3M131 38.5h2M133 39.5h3M136 40.5h2M138 41.5h2M140 42.5h3M143 43.5h2M145 44.5h2M147 45.5h3M150 46.5h2M152 47.5h2M154 48.5h3M157 49.5h2M159 50.5h3M162 51.5h2M164 52.5h2M166 53.5h3M169 54.5h2M171 55.5h2M173 56.5h3M176 57.5h3M179 58.5h2M181 59.5h3M184 60.5h3M187 61.5h3M190 62.5h3M193 63.5h4M197 64.5h3M200 65.5h3M203 66.5h3M206 67.5h4M210 68.5h4M214 69.5h3M217 70.5h2M219 71.5h3M222 72.5h3M225 73.5h2M227 74.5h3M230 75.5h2M232 76.5h3M235 77.5h3M238 78.5h2M240 79.5h3M243 80.5h2M245 81.5h3M248 82.5h4M252 83.5h3M255 84.5h3M258 85.5h4M262 86.5h3M265 87.5h3M268 88.5h3M271 89.5h3M274 90.5h3M277 91.5h3M280 92.5h4M284 93.5h4M288 94.5h3M291 95.5h4M295 96.5h3M298 97.5h4M302 98.5h3M305 99.5h4M309 100.5h3M312 101.5h3M315 102.5h4M319 103.5h3M322 104.5h4M326 105.5h4M330 106.5h3M333 107.5h4M337 108.5h3M340 109.5h3M343 110.5h2M345 111.5h3M348 112.5h3M351 113.5h2M353 114.5h3M356 115.5h3M359 116.5h3M362 117.5h4M366 118.5h3M369 119.5h3M372 120.5h3M375 121.5h2M377 122.5h2M379 123.5h3M382 124.5h2M384 125.5h3M387 126.5h2M389 127.5h2M391 128.5h3M394 129.5h2M396 130.5h2M398 131.5h3M401 132.5h3M404 133.5h2M406 134.5h3M409 135.5h3M412 136.5h2M414 137.5h3M417 138.5h3M420 139.5h2M422 140.5h3M425 141.5h2M427 142.5h3M430 143.5h2M432 144.5h3M435 145.5h3M438 146.5h2M440 147.5h3M443 148.5h2M445 149.5h3M448 150.5h3M451 151.5h3M454 152.5h4M458 153.5h3M461 154.5h3M464 155.5h3M467 156.5h3M470 157.5h4M474 158.5h4M478 159.5h4M482 160.5h3M485 161.5h4M489 162.5h4M493 163.5h4M497 164.5h4M501 165.5h4M505 166.5h5M510 167.5h4M514 168.5h4M518 169.5h4M522 170.5h4M526 171.5h4M530 172.5h4M534 173.5h4M538 174.5h3M541 175.5h4M545 176.5h4M549 177.5h3M552 178.5h2M554 179.5h2M556 180.5h2M558 181.5h2M560 182.5h2M562 183.5h2M564 184.5h2M566 185.5h2M568 186.5h1M569 187.5h2M571 188.5h2M573 189.5h2M575 190.5h2M577 191.5h2M579 192.5h1M580 193.5h2M582 194.5h2M584 195.5h2M586 196.5h2M588 197.5h2M590 198.5h2M592 199.5h2M594 200.5h3M597 201.5h2M599 202.5h2M601 203.5h3M604 204.5h2M606 205.5h2M608 206.5h3M611 207.5h3M614 208.5h3M617 209.5h3M620 210.5h3M623 211.5h2M625 212.5h2M627 213.5h2M629 214.5h2M631 215.5h2M633 216.5h1M634 217.5h2M636 218.5h2M638 219.5h2M640 220.5h1M641 221.5h1M642 222.5h2M644 223.5h1M645 224.5h1M646 225.5h2M648 226.5h1M649 227.5h1M650 228.5h2M652 229.5h1M653 230.5h2M655 231.5h2M657 232.5h3M660 233.5h2M662 234.5h2M664 235.5h3M667 236.5h2M669 237.5h2M671 238.5h2M673 239.5h1M674 240.5h1M675 241.5h2M677 242.5h1M678 243.5h1M679 244.5h2M681 245.5h1M682 246.5h2M684 247.5h1M685 248.5h2M687 249.5h2M689 250.5h1M690 251.5h2M692 252.5h2M694 253.5h2M696 254.5h2M698 255.5h2M700 256.5h2M702 257.5h1M703 258.5h2M705 259.5h1M706 260.5h1M707 261.5h2M709 262.5h1M710 263.5h1M711 264.5h2M713 265.5h1M714 266.5h2M716 267.5h1M717 268.5h1M718 269.5h2M720 270.5h1M721 271.5h2M723 272.5h1M724 273.5h2M726 274.5h1M727 275.5h1M728 276.5h2M730 277.5h1M731 278.5h1M732 279.5h2M734 280.5h1M735 281.5h1M736 282.5h2M738 283.5h1M739 284.5h1M740 285.5h2M742 286.5h1M743 287.5h1M744 288.5h2M746 289.5h2M748 290.5h1M749 291.5h2M751 292.5h2M753 293.5h1M754 294.5h1M755 295.5h2M757 296.5h1M758 297.5h1M759 298.5h1M760 299.5h1M761 300.5h2M763 301.5h1M764 302.5h1M765 303.5h1M766 304.5h2M768 305.5h2M770 306.5h1M771 307.5h2M773 308.5h1M774 309.5h2M776 310.5h2M778 311.5h2M780 312.5h2M782 313.5h2M784 314.5h1M785 315.5h2M787 316.5h1M788 317.5h1M789 318.5h2M791 319.5h1M792 320.5h2M794 321.5h2M796 322.5h2M798 323.5h2M800 324.5h2M802 325.5h2M804 326.5h2M806 327.5h2M808 328.5h2M810 329.5h3M813 330.5h2M815 331.5h3M818 332.5h3M821 333.5h2M823 334.5h2M825 335.5h2M827 336.5h2M829 337.5h1M830 338.5h2M832 339.5h1M833 340.5h2M835 341.5h2M837 342.5h1M838 343.5h2M840 344.5h2M842 345.5h1M843 346.5h2M845 347.5h2M847 348.5h1M848 349.5h2M850 350.5h2M852 351.5h1M853 352.5h2M855 353.5h1M856 354.5h2M858 355.5h1M859 356.5h2M861 357.5h1M862 358.5h2M864 359.5h1M865 360.5h2M867 361.5h2M869 362.5h1M870 363.5h2M872 364.5h1M873 365.5h2M875 366.5h2M877 367.5h1M878 368.5h2M880 369.5h2M882 370.5h1M883 371.5h2M885 372.5h1M886 373.5h2M888 374.5h2M890 375.5h2M892 376.5h2M894 377.5h2M896 378.5h2M898 379.5h2M900 380.5h2M902 381.5h2M904 382.5h2M906 383.5h1M907 384.5h2M909 385.5h1M910 386.5h1M911 387.5h2M913 388.5h1M914 389.5h2M916 390.5h2M918 391.5h2M920 392.5h3M923 393.5h3M926 394.5h2M928 395.5h3M931 396.5h2M933 397.5h2M935 398.5h2M937 399.5h2M939 400.5h3M942 401.5h2M944 402.5h3M947 403.5h2M949 404.5h2M951 405.5h3M954 406.5h3M957 407.5h2M959 408.5h3M962 409.5h4M966 410.5h6M972 411.5h5M977 412.5h5M982 413.5h5M987 414.5h57M1044 413.5h6M1050 414.5h6M1056 415.5h12M1068 416.5h24M1092 415.5h6M1098 414.5h27M1125 413.5h9M1134 412.5h7M1141 411.5h5M1146 410.5h4M1150 409.5h5M1155 408.5h5M1160 407.5h4M1164 406.5h5M1169 405.5h4M1173 404.5h6M1179 403.5h6M1185 402.5h6M1191 401.5h6M1197 400.5h4M1201 399.5h5M1206 398.5h4M1210 397.5h12M1222 396.5h14M1236 395.5h9M1245 394.5h9M1254 393.5h10M1264 392.5h9M1273 391.5h6M1279 390.5h3M1282 389.5h3M1285 388.5h3M1288 387.5h4M1292 386.5h3M1295 385.5h4M1299 384.5h4M1303 383.5h4M1307 382.5h3M1310 381.5h3M1313 380.5h3M1316 379.5h3M1319 378.5h3M1322 377.5h3M1325 376.5h4M1329 375.5h3M1332 374.5h4M1336 373.5h4M1340 372.5h4M1344 371.5h4M1348 370.5h4M1352 369.5h4M1356 368.5h4M1360 367.5h4M1364 366.5h6M1370 365.5h6M1376 364.5h5M1381 363.5h3M1384 362.5h3M1387 361.5h4M1391 360.5h5M1396 359.5h5M1401 358.5h4M1405 357.5h4M1409 356.5h3M1412 355.5h3M1415 354.5h4M1419 353.5h4M1423 352.5h5M1428 351.5h5M1433 350.5h5M1438 349.5h6M1444 348.5h6M1450 347.5h6M1456 346.5h6M1462 345.5h6M1468 344.5h6M1474 343.5h6M1480 342.5h5M1485 341.5h4M1489 340.5h5M1494 339.5h4M1498 338.5h5M1503 337.5h4M1507 336.5h5M1512 335.5h6M1518 334.5h6M1524 333.5h6M1530 332.5h4M1534 331.5h3M1537 330.5h3M1540 329.5h2M1542 328.5h3M1545 327.5h4M1549 326.5h5M1554 325.5h4M1558 324.5h5M1563 323.5h6M1569 322.5h6M1575 321.5h6M1581 320.5h7M1588 319.5h6M1594 318.5h6M1600 317.5h5M1605 316.5h5M1610 315.5h4M1614 314.5h5M1619 313.5h4M1623 312.5h4M1627 311.5h4M1631 310.5h3M1634 309.5h4M1638 308.5h4M1642 307.5h4M1646 306.5h3M1649 305.5h2M1651 304.5h3M1654 303.5h2M1656 302.5h3M1659 301.5h2M1661 300.5h1" fill="none" stroke="#ff00ff" stroke-width="1" />
<path d="M20 34.5h1M21 35.5h2M23 36.5h1M24 37.5h2M26 38.5h2M28 39.5h1M29 40.5h2M31 41.5h1M32 42.5h2M34 43.5h1M35 44.5h1M36 45.5h2M38 46.5h1M39 47.5h1M40 48.5h2M42 49.5h1M43 50.5h1M44 51.5h2M46 52.5h1M47 53.5h1M48 54.5h2M50 55.5h2M52 56.5h1M53 57.5h2M55 58.5h1M56 59.5h2M58 60.5h2M60 61.5h1M61 62.5h2M63 63.5h1M64 64.5h1M65 65.5h2M67 66.5h1M68 67.5h2M70 68.5h1M71 69.5h1M72 70.5h2M74 71.5h1M75 72.5h1M76 73.5h2M78 74.5h1M79 75.5h1M80 76.5h1M81 77.5h2M83 78.5h1M84 79.5h1M85 80.5h2M87 81.5h1M88 82.5h1M89 83.5h1M90 84.5h2M92 85.5h1M93 86.5h1M94 87.5h1M95 88.5h1M96 89.5h1M97 90.5h1M98 91.5h1M99 92.5h1M100 93.5h1M101 94.5h1M102 95.5h1M103 96.5h2M105 97.5h1M106 98.5h1M107 99.5h1M108 100.5h1M109 101.5h1M110 102.5h1M111 103.5h1M112 104.5h1M113 105.5h1M114 106.5h1M115 107.5h2M117 108.5h1M118 109.5h2M120 110.5h1M121 111.5h2M123 112.5h1M124 113.5h1M125 114.5h2M127 115.5h1M128 116.5h2M130 117.5h1M131 118.5h1M132 119.5h1M133 120.5h2M135 121.5h1M136 122.5h1M137 123.5h2M139 124.5h2M141 125.5h2M143 126.5h2M145 127.5h2M147 128.5h2M149 129.5h2M151 130.5h1M152 131.5h2M154 132.5h2M156 133.5h1M157 134.5h2M159 135.5h2M161 136.5h3M164 137.5h2M166 138.5h3M169 139.5h3M172 140.5h3M175 141.5h2M177 142.5h3M180 143.5h16M195 144.5h27M222 145.5h4M226 146.5h19M245 145.5h4M249 144.5h3M252 143.5h4M256 142.5h3M259 141.5h3M262 140.5h2M264 139.5h2M266 138.5h2M268 137.5h2M270 136.5h2M272 135.5h2M274 134.5h2M276 133.5h2M278 132.5h2M280 131.5h2M282 130.5h2M284 129.5h2M286 128.5h2M288 127.5h2M290 126.5h2M292 125.5h3M295 124.5h2M297 123.5h2M299 122.5h2M301 121.5h10M311 120.5h10M321 119.5h2M323 118.5h5M328 117.5h12M340 118.5h3M343 119.5h2M345 120.5h3M348 121.5h3M351 122.5h4M355 123.5h3M358 124.5h3M361 125.5h2M363 126.5h2M365 127.5h3M368 128.5h4M372 129.5h2M374 130.5h2M376 131.5h1M377 132.5h2M379 133.5h1M380 134.5h1M381 135.5h2M383 136.5h2M385 137.5h2M387 138.5h2M389 139.5h2M391 140.5h2M393 141.5h2M395 142.5h2M397 143.5h2M399 144.5h2M401 145.5h2M403 146.5h1M404 147.5h2M406 148.5h2M408 149.5h2M410 150.5h1M411 151.5h1M412 152.5h1M413 153.5h2M415 154.5h1M416 155.5h1M417 156.5h1M418 157.5h1M419 158.5h2M421 159.5h1M422 160.5h1M423 161.5h1M424 162.5h2M426 163.5h1M427 164.5h1M428 165.5h2M430 166.5h1M431 167.5h1M432 168.5h2M434 169.5h1M435 170.5h1M436 171.5h2M438 172.5h1M439 173.5h2M441 174.5h1M442 175.5h2M444 176.5h1M445 177.5h2M447 178.5h1M448 179.5h2M450 180.5h1M451 181.5h2M453 182.5h1M454 183.5h1M455 184.5h1M456 185.5h1M457 186.5h1M458 187.5h1M459 188.5h1M460 189.5h1M461 190.5h1M462 191.5h2M464 192.5h2M466 193.5h3M469 194.5h2M471 195.5h2M473 196.5h2M475 197.5h1M476 198.5h2M478 199.5h1M479 200.5h2M481 201.5h1M482 202.5h2M484 203.5h2M486 204.5h1M487 205.5h2M489 206.5h2M491 207.5h2M493 208.5h2M495 209.5h2M497 210.5h2M499 211.5h2M501 212.5h1M502 213.5h2M504 214.5h2M506 215.5h2M508 216.5h2M510 217.5h2M512 218.5h2M514 219.5h1M515 220.5h2M517 221.5h1M518 222.5h2M520 223.5h2M522 224.5h1M523 225.5h2M525 226.5h1M526 227.5h1M527 228.5h1M528 229.5h1M529 230.5h2M531 231.5h1M532 232.5h1M533 233.5h1M534 234.5h1M535 235.5h1M536 236.5h1M537 237.5h2M539 238.5h1M540 239.5h1M541 240.5h1M542 241.5h1M543 242.5h2M545 243.5h2M547 244.5h1M548 245.5h2M550 246.5h1M551 247.5h2M553 248.5h2M555 249.5h1M556 250.5h1M557 251.5h1M558 252.5h1M559 253.5h1M560 254.5h1M561 255.5h1M562 256.5h1M563 257.5h1M564 258.5h1M565 259.5h1M566 260.5h1M567 261.5h1M568 262.5h1M569 263.5h1M570 264.5h1M571 265.5h1M572 266.5h1M573 267.5h1M574.5 268v2M575 270.5h1M576 271.5h1M577 272.5h1M578 273.5h1M579 274.5h1M580 275.5h1M581 276.5h1M582 277.5h2M584 278.5h2M586 279.5h2M588 280.5h2M590 281.5h2M592 282.5h2M594 283.5h1M595 284.5h2M597 285.5h1M598 286.5h2M600 287.5h1M601 288.5h1M602 289.5h2M604 290.5h1M605 291.5h2M607 292.5h2M609 293.5h3M612 294.5h3M615 295.5h3M618 296.5h2M620 297.5h2M622 298.5h2M624 299.5h2M626 300.5h2M628 301.5h1M629 302.5h1M630 303.5h2M632 304.5h1M633 305.5h1M634 306.5h1M635 307.5h1M636 308.5h2M638 309.5h1M639 310.5h1M640 311.5h2M642 312.5h2M644 313.5h1M645 314.5h1M646.5 315v2M647 317.5h1M648 318.5h1M649 319.5h1M650 320.5h1M651.5 321v2M652 323.5h1M653 324.5h1M654 325.5h1M655 326.5h1M656 327.5h1M657 328.5h1M658 329.5h1M659 330.5h2M661 331.5h1M662 332.5h1M663 333.5h1M664 334.5h1M665 335.5h1M666 336.5h2M668 337.5h1M669 338.5h1M670 339.5h2M672 340.5h1M673 341.5h1M674 342.5h2M676 343.5h1M677 344.5h1M678 345.5h2M680 346.5h1M681 347.5h1M682 348.5h1M683 349.5h1M684 350.5h2M686 351.5h1M687 352.5h1M688 353.5h2M690 354.5h2M692 355.5h2M694 356.5h2M696 357.5h2M698 358.5h1M699 359.5h2M701 360.5h2M703 361.5h2M705 362.5h2M707 363.5h2M709 364.5h2M711 365.5h2M713 366.5h3M716 367.5h2M718 368.5h3M721 369.5h2M723 370.5h2M725 371.5h5M730 372.5h6M736 373.5h9M745 372.5h5M750 373.5h1M751 374.5h2M753 375.5h1M754 376.5h1M755 377.5h2M757 378.5h1M758 379.5h1M759 380.5h2M761 381.5h2M763 382.5h2M765 383.5h2M767 384.5h2M769 385.5h1M770 386.5h2M772 387.5h2M774 388.5h2M776 389.5h2M778 390.5h2M780 391.5h1M781 392.5h1M782 393.5h2M784 394.5h1M785 395.5h1M786 396.5h1M787 397.5h1M788 398.5h2M790 399.5h1M791 400.5h1M792 401.5h2M794 402.5h2M796 403.5h2M798 404.5h2M800 405.5h1M801 406.5h2M803 407.5h1M804 408.5h1M805 409.5h2M807 410.5h4M811 411.5h9M820 410.5h8M828 411.5h3M831 412.5h2M833 413.5h2M835 414.5h2M837 415.5h1M838 416.5h2M840 417.5h1M841 418.5h2M843 419.5h1M844 420.5h2M846 421.5h1M847 422.5h2M849 423.5h1M850 424.5h2M852 425.5h1M853 426.5h2M855 427.5h1M856 428.5h1M857 429.5h1M858 430.5h1M859 431.5h1M860 432.5h1M861 433.5h1M862 434.5h1M863 435.5h1M864 436.5h1M865 437.5h2M867 438.5h2M869 439.5h1M870 440.5h2M872 441.5h2M874 442.5h2M876 443.5h2M878 444.5h1M879 445.5h2M881 446.5h1M882 447.5h2M884 448.5h1M885 449.5h2M887 450.5h2M889 451.5h2M891 452.5h3M894 453.5h2M896 454.5h3M899 455.5h2M901 456.5h2M903 457.5h2M905 458.5h4M909 459.5h4M913 460.5h17M930 459.5h7M937 458.5h4M941 457.5h19M960 456.5h2M962 455.5h2M964 454.5h7M971 453.5h21M992 452.5h5M997 451.5h3M1000 450.5h2M1002 449.5h2M1004 448.5h2M1006 447.5h2M1008 446.5h2M1010 445.5h3M1013 444.5h3M1016 443.5h2M1018 442.5h1M1019 441.5h2M1021 440.5h1M1022 439.5h1M1023 438.5h2M1025 437.5h1M1026 436.5h1M1027 435.5h1M1028 434.5h1M1029 433.5h1M1030 432.5h1M1031 431.5h1M1032 430.5h1M1033 429.5h1M1034 428.5h1M1035 427.5h1M1036.5 425v2M1037 424.5h1M1038 423.5h1M1039.5 421v2M1040 420.5h1M1041 419.5h1M1042 418.5h1M1043 417.5h1M1044 416.5h1M1045 415.5h1M1046 414.5h1M1047 413.5h1M1048 412.5h1M1049 411.5h1M1050.5 409v2M1051 408.5h1M1052 407.5h1M1053.5 405v2M1054 404.5h1M1055 403.5h1M1056 402.5h1M1057 401.5h2M1059 400.5h1M1060 399.5h1M1061 398.5h1M1062 397.5h2M1064 396.5h1M1065 395.5h1M1066 394.5h2M1068 393.5h1M1069 392.5h2M1071 391.5h1M1072 390.5h2M1074 389.5h1M1075 388.5h2M1077 387.5h2M1079 386.5h2M1081 385.5h2M1083 384.5h1M1084 383.5h2M1086 382.5h2M1088 381.5h1M1089 380.5h2M1091 379.5h2M1093 378.5h2M1095 377.5h3M1098 376.5h3M1101 375.5h4M1105 374.5h4M1109 373.5h4M1113 372.5h3M1116 371.5h3M1119 370.5h5M1124 369.5h4M1128 368.5h2M1130 367.5h2M1132 366.5h2M1134 365.5h2M1136 364.5h2M1138 363.5h2M1140 362.5h2M1142 361.5h2M1144 360.5h2M1146 359.5h2M1148 358.5h2M1150 357.5h2M1152 356.5h2M1154 355.5h2M1156 354.5h3M1159 353.5h2M1161 352.5h2M1163 351.5h3M1166 350.5h2M1168 349.5h2M1170 348.5h2M1172 347.5h2M1174 346.5h2M1176 345.5h2M1178 344.5h2M1180 343.5h2M1182 342.5h2M1184 341.5h2M1186 340.5h4M1190 339.5h4M1194 340.5h5M1199 341.5h4M1203 342.5h3M1206 343.5h2M1208 344.5h3M1211 345.5h3M1214 346.5h4M1218 347.5h4M1222 348.5h4M1226 349.5h5M1231 350.5h6M1237 351.5h6M1243 352.5h4M1247 353.5h4M1251 354.5h41M1292 355.5h4M1296 356.5h4M1300 357.5h4M1304 358.5h6M1310 359.5h4M1314 360.5h4M1318 361.5h4M1322 362.5h2M1324 363.5h2M1326 364.5h2M1328 365.5h1M1329 366.5h2M1331 367.5h2M1333 368.5h3M1336 369.5h2M1338 370.5h3M1341 371.5h3M1344 372.5h4M1348 373.5h17M1365 372.5h7M1372 371.5h5M1377 370.5h3M1380 369.5h2M1382 368.5h3M1385 367.5h2M1387 366.5h2M1389 365.5h2M1391 364.5h2M1393 363.5h2M1395 362.5h2M1397 361.5h2M1399 360.5h2M1401 359.5h2M1403 358.5h1M1404 357.5h2M1406 356.5h1M1407 355.5h2M1409 354.5h1M1410 353.5h2M1412 352.5h1M1413 351.5h2M1415 350.5h2M1417 349.5h1M1418 348.5h2M1420 347.5h2M1422 346.5h1M1423 345.5h2M1425 344.5h2M1427 343.5h2M1429 342.5h2M1431 341.5h2M1433 340.5h3M1436 339.5h3M1439 338.5h2M1441 337.5h2M1443 336.5h1M1444 335.5h2M1446 334.5h2M1448 333.5h3M1451 332.5h2M1453 331.5h3M1456 330.5h2M1458 329.5h2M1460 328.5h2M1462 327.5h2M1464 326.5h2M1466 325.5h2M1468 324.5h2M1470 323.5h2M1472 322.5h2M1474 321.5h3M1477 320.5h2M1479 319.5h2M1481 318.5h2M1483 317.5h1M1484 316.5h1M1485 315.5h2M1487 314.5h1M1488 313.5h1M1489 312.5h2M1491 311.5h1M1492 310.5h1M1493 309.5h2M1495 308.5h1M1496 307.5h1M1497 306.5h2M1499 305.5h1M1500 304.5h2M1502 303.5h1M1503 302.5h1M1504 301.5h2M1506 300.5h1M1507 299.5h1M1508 298.5h2M1510 297.5h1M1511 296.5h2M1513 295.5h2M1515 294.5h2M1517 293.5h2M1519 292.5h2M1521 291.5h1M1522 290.5h2M1524 289.5h2M1526 288.5h2M1528 287.5h2M1530 286.5h2M1532 285.5h2M1534 284.5h2M1536 283.5h2M1538 282.5h2M1540 281.5h2M1542 280.5h2M1544 279.5h3M1547 278.5h3M1550 277.5h2M1552 276.5h3M1555 275.5h4M1559 274.5h5M1564 273.5h4M1568 272.5h3M1571 271.5h3M1574 270.5h3M1577 269.5h16M1593 268.5h3M1596 267.5h3M1599 266.5h2M1601 265.5h3M1604 264.5h3M1607 263.5h2M1609 262.5h3M1612 261.5h2M1614 260.5h3M1617 259.5h2M1619 258.5h2M1621 257.5h3M1624 256.5h2M1626 255.5h3M1629 254.5h3M1632 253.5h2M1634 252.5h3M1637 251.5h2M1639 250.5h3M1642 249.5h2M1644 248.5h3M1647 247.5h4M1651 246.5h3M1654 245.5h5M1659 244.5h3" fill="none" stroke="#ffa500" stroke-width="1" />
</g>
<rect x="5" y="33" width="1677" height="1" fill="#000"/>
<rect x="5" y="536" width="1677" height="1" fill="#000"/>
<rect x="5" y="33" width="1" height="504" fill="#000"/>
<rect x="1681" y="33" width="1" height="504" fill="#000"/>
<rect x="5" y="538" width="1677" height="1" fill="#000"/>
<rect x="5" y="662" width="1677" height="1" fill="#000"/>
<rect x="5" y="538" width="1" height="125" fill="#000"/>
<rect x="1681" y="538" width="1" height="125" fill="#000"/>
<rect x="5" y="664" width="1677" height="1" fill="#000"/>
<rect x="5" y="769" width="1677" height="1" fill="#000"/>
<rect x="5" y="664" width="1" height="106" fill="#000"/>
<rect x="1681" y="664" width="1" height="106" fill="#000"/>
<rect x="6" y="198" width="1676" height="2" fill="#ff0000"/>
<rect x="6" y="311" width="1676" height="2" fill="#00ff7f"/>
<rect x="6" y="362" width="1676" height="2" fill="#4169e1"/>
<rect x="6" y="401" width="1676" height="2" fill="#4169e1"/>
<rect x="6" y="443" width="1676" height="2" fill="#4169e1"/>
<rect x="5" y="196" width="6" height="6" fill="#ff0000"/>
<rect x="7" y="198" width="2" height="2" fill="#fff"/>
<rect x="1675" y="196" width="6" height="6" fill="#ff0000"/>
<rect x="1677" y="198" width="2" height="2" fill="#fff"/>
<rect x="9" y="40" width="7" height="1" fill="#000"/>
<rect x="10" y="41" width="5" height="1" fill="#000"/>
<rect x="11" y="42" width="3" height="1" fill="#000"/>
<rect x="12" y="43" width="1" height="1" fill="#000"/>
<text x="21.3" y="45" font-size="9.6" fill="#000" stroke="#000" stroke-width="0.1" textLength="44.2" lengthAdjust="spacingAndGlyphs" >SP500-,H4</text>
<text x="72.2" y="45" font-size="9.6" fill="#000" stroke="#000" stroke-width="0.1" textLength="37" lengthAdjust="spacingAndGlyphs" >2831.500</text>
<text x="113.3" y="45" font-size="9.6" fill="#000" stroke="#000" stroke-width="0.1" textLength="37" lengthAdjust="spacingAndGlyphs" >2831.750</text>
<text x="154.4" y="45" font-size="9.6" fill="#000" stroke="#000" stroke-width="0.1" textLength="37" lengthAdjust="spacingAndGlyphs" >2830.500</text>
<text x="195.5" y="45" font-size="9.6" fill="#000" stroke="#000" stroke-width="0.1" textLength="37" lengthAdjust="spacingAndGlyphs" >2830.500</text>
<text x="1227.9" y="148.44" font-size="32.4" fill="#ff2a0a" shape-rendering="auto" font-family="'Liberation Sans', 'Noto Sans CJK SC', sans-serif">多空转折点<tspan x="1389.4" y="147.16" font-size="34">2630</tspan></text>
<rect x="1682" y="38" width="2" height="1" fill="#000"/>
<text x="1687" y="41.9" font-size="9.6" fill="#000" stroke="#000" stroke-width="0.1" textLength="37.6" lengthAdjust="spacingAndGlyphs" >3223.360</text>
<rect x="1682" y="71" width="2" height="1" fill="#000"/>
<text x="1687" y="74.9" font-size="9.6" fill="#000" stroke="#000" stroke-width="0.1" textLength="37.6" lengthAdjust="spacingAndGlyphs" >3152.245</text>
<rect x="1682" y="104" width="2" height="1" fill="#000"/>
<text x="1687" y="107.9" font-size="9.6" fill="#000" stroke="#000" stroke-width="0.1" textLength="37.6" lengthAdjust="spacingAndGlyphs" >3081.130</text>
<rect x="1682" y="137" width="2" height="1" fill="#000"/>
<text x="1687" y="140.9" font-size="9.6" fill="#000" stroke="#000" stroke-width="0.1" textLength="37.6" lengthAdjust="spacingAndGlyphs" >3010.015</text>
<rect x="1682" y="170" width="2" height="1" fill="#000"/>
<text x="1687" y="173.9" font-size="9.6" fill="#000" stroke="#000" stroke-width="0.1" textLength="37.6" lengthAdjust="spacingAndGlyphs" >2938.900</text>
<rect x="1682" y="203" width="2" height="1" fill="#000"/>
<text x="1687" y="206.9" font-size="9.6" fill="#000" stroke="#000" stroke-width="0.1" textLength="37.6" lengthAdjust="spacingAndGlyphs" >2867.785</text>
<rect x="1682" y="236" width="2" height="1" fill="#000"/>
<text x="1687" y="239.9" font-size="9.6" fill="#000" stroke="#000" stroke-width="0.1" textLength="37.6" lengthAdjust="spacingAndGlyphs" >2794.515</text>
<rect x="1682" y="269" width="2" height="1" fill="#000"/>
<text x="1687" y="272.9" font-size="9.6" fill="#000" stroke="#000" stroke-width="0.1" textLength="37.6" lengthAdjust="spacingAndGlyphs" >2723.400</text>
<rect x="1682" y="302" width="2" height="1" fill="#000"/>
<text x="1687" y="305.9" font-size="9.6" fill="#000" stroke="#000" stroke-width="0.1" textLength="37.6" lengthAdjust="spacingAndGlyphs" >2652.285</text>
<rect x="1682" y="335" width="2" height="1" fill="#000"/>
<text x="1687" y="338.9" font-size="9.6" fill="#000" stroke="#000" stroke-width="0.1" textLength="37.6" lengthAdjust="spacingAndGlyphs" >2581.170</text>
<rect x="1682" y="368" width="2" height="1" fill="#000"/>
<text x="1687" y="371.9" font-size="9.6" fill="#000" stroke="#000" stroke-width="0.1" textLength="37.6" lengthAdjust="spacingAndGlyphs" >2510.055</text>
<rect x="1682" y="401" width="2" height="1" fill="#000"/>
<text x="1687" y="404.9" font-size="9.6" fill="#000" stroke="#000" stroke-width="0.1" textLength="37.6" lengthAdjust="spacingAndGlyphs" >2438.940</text>
<rect x="1682" y="434" width="2" height="1" fill="#000"/>
<text x="1687" y="437.9" font-size="9.6" fill="#000" stroke="#000" stroke-width="0.1" textLength="37.6" lengthAdjust="spacingAndGlyphs" >2365.670</text>
<rect x="1682" y="467" width="2" height="1" fill="#000"/>
<text x="1687" y="470.9" font-size="9.6" fill="#000" stroke="#000" stroke-width="0.1" textLength="37.6" lengthAdjust="spacingAndGlyphs" >2294.555</text>
<rect x="1682" y="500" width="2" height="1" fill="#000"/>
<text x="1687" y="503.9" font-size="9.6" fill="#000" stroke="#000" stroke-width="0.1" textLength="37.6" lengthAdjust="spacingAndGlyphs" >2223.440</text>
<rect x="1682" y="533" width="2" height="1" fill="#000"/>
<text x="1687" y="536.9" font-size="9.6" fill="#000" stroke="#000" stroke-width="0.1" textLength="37.6" lengthAdjust="spacingAndGlyphs" >2152.325</text>
<rect x="1683" y="193" width="43" height="11" fill="#ff0000"/>
<text x="1687" y="201.9" font-size="9.6" fill="#fff" stroke="#fff" stroke-width="0.1" textLength="37.6" lengthAdjust="spacingAndGlyphs" >2875.000</text>
<rect x="1683" y="215" width="43" height="11" fill="#000"/>
<text x="1687" y="223.9" font-size="9.6" fill="#fff" stroke="#fff" stroke-width="0.1" textLength="37.6" lengthAdjust="spacingAndGlyphs" >2830.500</text>
<rect x="1683" y="306" width="43" height="11" fill="#00ff7f"/>
<text x="1687" y="314.9" font-size="9.6" fill="#fff" stroke="#fff" stroke-width="0.1" textLength="37.6" lengthAdjust="spacingAndGlyphs" >2630.000</text>
<rect x="1683" y="357" width="43" height="11" fill="#4169e1"/>
<text x="1687" y="365.9" font-size="9.6" fill="#fff" stroke="#fff" stroke-width="0.1" textLength="37.6" lengthAdjust="spacingAndGlyphs" >2520.000</text>
<rect x="1683" y="396" width="43" height="11" fill="#4169e1"/>
<text x="1687" y="404.9" font-size="9.6" fill="#fff" stroke="#fff" stroke-width="0.1" textLength="37.6" lengthAdjust="spacingAndGlyphs" >2435.000</text>
<rect x="1683" y="438" width="43" height="11" fill="#4169e1"/>
<text x="1687" y="446.9" font-size="9.6" fill="#fff" stroke="#fff" stroke-width="0.1" textLength="37.6" lengthAdjust="spacingAndGlyphs" >2345.000</text>
<text x="10.3" y="551" font-size="9.6" fill="#000" stroke="#000" stroke-width="0.1" textLength="137.6" lengthAdjust="spacingAndGlyphs" >MACD(12,26,9) 41.7573 39.3677</text>
<rect x="6" y="581" width="1" height="35" fill="#c0c0c0"/>
<rect x="14" y="581" width="1" height="34" fill="#c0c0c0"/>
<rect x="22" y="581" width="1" height="35" fill="#c0c0c0"/>
<rect x="30" y="581" width="1" height="36" fill="#c0c0c0"/>
<rect x="38" y="581" width="1" height="39" fill="#c0c0c0"/>
<rect x="46" y="581" width="1" height="39" fill="#c0c0c0"/>
<rect x="54" y="581" width="1" height="40" fill="#c0c0c0"/>
<rect x="62" y="581" width="1" height="41" fill="#c0c0c0"/>
<rect x="70" y="581" width="1" height="42" fill="#c0c0c0"/>
<rect x="78" y="581" width="1" height="46" fill="#c0c0c0"/>
<rect x="86" y="581" width="1" height="50" fill="#c0c0c0"/>
<rect x="94" y="581" width="1" height="53" fill="#c0c0c0"/>
<rect x="102" y="581" width="1" height="55" fill="#c0c0c0"/>
<rect x="110" y="581" width="1" height="58" fill="#c0c0c0"/>
<rect x="118" y="581" width="1" height="58" fill="#c0c0c0"/>
<rect x="126" y="581" width="1" height="55" fill="#c0c0c0"/>
<rect x="134" y="581" width="1" height="53" fill="#c0c0c0"/>
<rect x="142" y="581" width="1" height="51" fill="#c0c0c0"/>
<rect x="150" y="581" width="1" height="45" fill="#c0c0c0"/>
<rect x="158" y="581" width="1" height="46" fill="#c0c0c0"/>
<rect x="166" y="581" width="1" height="42" fill="#c0c0c0"/>
<rect x="174" y="581" width="1" height="37" fill="#c0c0c0"/>
<rect x="182" y="581" width="1" height="29" fill="#c0c0c0"/>
<rect x="190" y="581" width="1" height="23" fill="#c0c0c0"/>
<rect x="198" y="581" width="1" height="19" fill="#c0c0c0"/>
<rect x="206" y="581" width="1" height="13" fill="#c0c0c0"/>
<rect x="214" y="581" width="1" height="9" fill="#c0c0c0"/>
<rect x="222" y="581" width="1" height="10" fill="#c0c0c0"/>
<rect x="230" y="581" width="1" height="11" fill="#c0c0c0"/>
<rect x="238" y="581" width="1" height="11" fill="#c0c0c0"/>
<rect x="246" y="581" width="1" height="9" fill="#c0c0c0"/>
<rect x="254" y="581" width="1" height="7" fill="#c0c0c0"/>
<rect x="262" y="581" width="1" height="6" fill="#c0c0c0"/>
<rect x="270" y="581" width="1" height="2" fill="#c0c0c0"/>
<rect x="278" y="581" width="1" height="1" fill="#c0c0c0"/>
<rect x="286" y="579" width="1" height="3" fill="#c0c0c0"/>
<rect x="294" y="578" width="1" height="4" fill="#c0c0c0"/>
<rect x="302" y="579" width="1" height="3" fill="#c0c0c0"/>
<rect x="310" y="579" width="1" height="3" fill="#c0c0c0"/>
<rect x="318" y="580" width="1" height="2" fill="#c0c0c0"/>
<rect x="334" y="581" width="1" height="5" fill="#c0c0c0"/>
<rect x="342" y="581" width="1" height="7" fill="#c0c0c0"/>
<rect x="350" y="581" width="1" height="11" fill="#c0c0c0"/>
<rect x="358" y="581" width="1" height="13" fill="#c0c0c0"/>
<rect x="366" y="581" width="1" height="17" fill="#c0c0c0"/>
<rect x="374" y="581" width="1" height="19" fill="#c0c0c0"/>
<rect x="382" y="581" width="1" height="25" fill="#c0c0c0"/>
<rect x="390" y="581" width="1" height="30" fill="#c0c0c0"/>
<rect x="398" y="581" width="1" height="34" fill="#c0c0c0"/>
<rect x="406" y="581" width="1" height="37" fill="#c0c0c0"/>
<rect x="414" y="581" width="1" height="39" fill="#c0c0c0"/>
<rect x="422" y="581" width="1" height="44" fill="#c0c0c0"/>
<rect x="430" y="581" width="1" height="44" fill="#c0c0c0"/>
<rect x="438" y="581" width="1" height="43" fill="#c0c0c0"/>
<rect x="446" y="581" width="1" height="42" fill="#c0c0c0"/>
<rect x="454" y="581" width="1" height="38" fill="#c0c0c0"/>
<rect x="462" y="581" width="1" height="41" fill="#c0c0c0"/>
<rect x="470" y="581" width="1" height="35" fill="#c0c0c0"/>
<rect x="478" y="581" width="1" height="33" fill="#c0c0c0"/>
<rect x="486" y="581" width="1" height="32" fill="#c0c0c0"/>
<rect x="494" y="581" width="1" height="32" fill="#c0c0c0"/>
<rect x="502" y="581" width="1" height="31" fill="#c0c0c0"/>
<rect x="510" y="581" width="1" height="32" fill="#c0c0c0"/>
<rect x="518" y="581" width="1" height="33" fill="#c0c0c0"/>
<rect x="526" y="581" width="1" height="34" fill="#c0c0c0"/>
<rect x="534" y="581" width="1" height="40" fill="#c0c0c0"/>
<rect x="542" y="581" width="1" height="44" fill="#c0c0c0"/>
<rect x="550" y="581" width="1" height="48" fill="#c0c0c0"/>
<rect x="558" y="581" width="1" height="55" fill="#c0c0c0"/>
<rect x="566" y="581" width="1" height="62" fill="#c0c0c0"/>
<rect x="574" y="581" width="1" height="69" fill="#c0c0c0"/>
<rect x="582" y="581" width="1" height="75" fill="#c0c0c0"/>
<rect x="590" y="581" width="1" height="70" fill="#c0c0c0"/>
<rect x="598" y="581" width="1" height="65" fill="#c0c0c0"/>
<rect x="606" y="581" width="1" height="63" fill="#c0c0c0"/>
<rect x="614" y="581" width="1" height="52" fill="#c0c0c0"/>
<rect x="622" y="581" width="1" height="44" fill="#c0c0c0"/>
<rect x="630" y="581" width="1" height="43" fill="#c0c0c0"/>
<rect x="638" y="581" width="1" height="41" fill="#c0c0c0"/>
<rect x="646" y="581" width="1" height="42" fill="#c0c0c0"/>
<rect x="654" y="581" width="1" height="49" fill="#c0c0c0"/>
<rect x="662" y="581" width="1" height="50" fill="#c0c0c0"/>
<rect x="670" y="581" width="1" height="48" fill="#c0c0c0"/>
<rect x="678" y="581" width="1" height="46" fill="#c0c0c0"/>
<rect x="686" y="581" width="1" height="49" fill="#c0c0c0"/>
<rect x="694" y="581" width="1" height="46" fill="#c0c0c0"/>
<rect x="702" y="581" width="1" height="42" fill="#c0c0c0"/>
<rect x="710" y="581" width="1" height="44" fill="#c0c0c0"/>
<rect x="718" y="581" width="1" height="46" fill="#c0c0c0"/>
<rect x="726" y="581" width="1" height="48" fill="#c0c0c0"/>
<rect x="734" y="581" width="1" height="48" fill="#c0c0c0"/>
<rect x="742" y="581" width="1" height="47" fill="#c0c0c0"/>
<rect x="750" y="581" width="1" height="44" fill="#c0c0c0"/>
<rect x="758" y="581" width="1" height="49" fill="#c0c0c0"/>
<rect x="766" y="581" width="1" height="49" fill="#c0c0c0"/>
<rect x="774" y="581" width="1" height="49" fill="#c0c0c0"/>
<rect x="782" y="581" width="1" height="45" fill="#c0c0c0"/>
<rect x="790" y="581" width="1" height="41" fill="#c0c0c0"/>
<rect x="798" y="581" width="1" height="41" fill="#c0c0c0"/>
<rect x="806" y="581" width="1" height="39" fill="#c0c0c0"/>
<rect x="814" y="581" width="1" height="33" fill="#c0c0c0"/>
<rect x="822" y="581" width="1" height="28" fill="#c0c0c0"/>
<rect x="830" y="581" width="1" height="27" fill="#c0c0c0"/>
<rect x="838" y="581" width="1" height="31" fill="#c0c0c0"/>
<rect x="846" y="581" width="1" height="34" fill="#c0c0c0"/>
<rect x="854" y="581" width="1" height="41" fill="#c0c0c0"/>
<rect x="862" y="581" width="1" height="45" fill="#c0c0c0"/>
<rect x="870" y="581" width="1" height="48" fill="#c0c0c0"/>
<rect x="878" y="581" width="1" height="49" fill="#c0c0c0"/>
<rect x="886" y="581" width="1" height="50" fill="#c0c0c0"/>
<rect x="894" y="581" width="1" height="49" fill="#c0c0c0"/>
<rect x="902" y="581" width="1" height="45" fill="#c0c0c0"/>
<rect x="910" y="581" width="1" height="42" fill="#c0c0c0"/>
<rect x="918" y="581" width="1" height="36" fill="#c0c0c0"/>
<rect x="926" y="581" width="1" height="31" fill="#c0c0c0"/>
<rect x="934" y="581" width="1" height="23" fill="#c0c0c0"/>
<rect x="942" y="581" width="1" height="14" fill="#c0c0c0"/>
<rect x="950" y="581" width="1" height="8" fill="#c0c0c0"/>
<rect x="958" y="581" width="1" height="4" fill="#c0c0c0"/>
<rect x="966" y="580" width="1" height="2" fill="#c0c0c0"/>
<rect x="974" y="578" width="1" height="4" fill="#c0c0c0"/>
<rect x="982" y="574" width="1" height="8" fill="#c0c0c0"/>
<rect x="990" y="571" width="1" height="11" fill="#c0c0c0"/>
<rect x="998" y="568" width="1" height="14" fill="#c0c0c0"/>
<rect x="1006" y="567" width="1" height="15" fill="#c0c0c0"/>
<rect x="1014" y="568" width="1" height="14" fill="#c0c0c0"/>
<rect x="1022" y="569" width="1" height="13" fill="#c0c0c0"/>
<rect x="1030" y="561" width="1" height="21" fill="#c0c0c0"/>
<rect x="1038" y="554" width="1" height="28" fill="#c0c0c0"/>
<rect x="1046" y="548" width="1" height="34" fill="#c0c0c0"/>
<rect x="1054" y="546" width="1" height="36" fill="#c0c0c0"/>
<rect x="1062" y="546" width="1" height="36" fill="#c0c0c0"/>
<rect x="1070" y="548" width="1" height="34" fill="#c0c0c0"/>
<rect x="1078" y="550" width="1" height="32" fill="#c0c0c0"/>
<rect x="1086" y="553" width="1" height="29" fill="#c0c0c0"/>
<rect x="1094" y="554" width="1" height="28" fill="#c0c0c0"/>
<rect x="1102" y="558" width="1" height="24" fill="#c0c0c0"/>
<rect x="1110" y="560" width="1" height="22" fill="#c0c0c0"/>
<rect x="1118" y="562" width="1" height="20" fill="#c0c0c0"/>
<rect x="1126" y="563" width="1" height="19" fill="#c0c0c0"/>
<rect x="1134" y="561" width="1" height="21" fill="#c0c0c0"/>
<rect x="1142" y="558" width="1" height="24" fill="#c0c0c0"/>
<rect x="1150" y="556" width="1" height="26" fill="#c0c0c0"/>
<rect x="1158" y="554" width="1" height="28" fill="#c0c0c0"/>
<rect x="1166" y="553" width="1" height="29" fill="#c0c0c0"/>
<rect x="1174" y="554" width="1" height="28" fill="#c0c0c0"/>
<rect x="1182" y="554" width="1" height="28" fill="#c0c0c0"/>
<rect x="1190" y="557" width="1" height="25" fill="#c0c0c0"/>
<rect x="1198" y="560" width="1" height="22" fill="#c0c0c0"/>
<rect x="1206" y="565" width="1" height="17" fill="#c0c0c0"/>
<rect x="1214" y="570" width="1" height="12" fill="#c0c0c0"/>
<rect x="1222" y="574" width="1" height="8" fill="#c0c0c0"/>
<rect x="1230" y="578" width="1" height="4" fill="#c0c0c0"/>
<rect x="1246" y="581" width="1" height="3" fill="#c0c0c0"/>
<rect x="1254" y="581" width="1" height="5" fill="#c0c0c0"/>
<rect x="1262" y="581" width="1" height="5" fill="#c0c0c0"/>
<rect x="1270" y="581" width="1" height="5" fill="#c0c0c0"/>
<rect x="1278" y="581" width="1" height="5" fill="#c0c0c0"/>
<rect x="1286" y="581" width="1" height="3" fill="#c0c0c0"/>
<rect x="1294" y="581" width="1" height="4" fill="#c0c0c0"/>
<rect x="1302" y="581" width="1" height="5" fill="#c0c0c0"/>
<rect x="1310" y="581" width="1" height="6" fill="#c0c0c0"/>
<rect x="1318" y="581" width="1" height="4" fill="#c0c0c0"/>
<rect x="1326" y="581" width="1" height="6" fill="#c0c0c0"/>
<rect x="1334" y="581" width="1" height="6" fill="#c0c0c0"/>
<rect x="1342" y="581" width="1" height="6" fill="#c0c0c0"/>
<rect x="1350" y="581" width="1" height="5" fill="#c0c0c0"/>
<rect x="1366" y="579" width="1" height="3" fill="#c0c0c0"/>
<rect x="1374" y="576" width="1" height="6" fill="#c0c0c0"/>
<rect x="1382" y="573" width="1" height="9" fill="#c0c0c0"/>
<rect x="1390" y="568" width="1" height="14" fill="#c0c0c0"/>
<rect x="1398" y="564" width="1" height="18" fill="#c0c0c0"/>
<rect x="1406" y="563" width="1" height="19" fill="#c0c0c0"/>
<rect x="1414" y="558" width="1" height="24" fill="#c0c0c0"/>
<rect x="1422" y="554" width="1" height="28" fill="#c0c0c0"/>
<rect x="1430" y="551" width="1" height="31" fill="#c0c0c0"/>
<rect x="1438" y="553" width="1" height="29" fill="#c0c0c0"/>
<rect x="1446" y="554" width="1" height="28" fill="#c0c0c0"/>
<rect x="1454" y="556" width="1" height="26" fill="#c0c0c0"/>
<rect x="1462" y="557" width="1" height="25" fill="#c0c0c0"/>
<rect x="1470" y="558" width="1" height="24" fill="#c0c0c0"/>
<rect x="1478" y="556" width="1" height="26" fill="#c0c0c0"/>
<rect x="1486" y="554" width="1" height="28" fill="#c0c0c0"/>
<rect x="1494" y="552" width="1" height="30" fill="#c0c0c0"/>
<rect x="1502" y="552" width="1" height="30" fill="#c0c0c0"/>
<rect x="1510" y="550" width="1" height="32" fill="#c0c0c0"/>
<rect x="1518" y="552" width="1" height="30" fill="#c0c0c0"/>
<rect x="1526" y="549" width="1" height="33" fill="#c0c0c0"/>
<rect x="1534" y="549" width="1" height="33" fill="#c0c0c0"/>
<rect x="1542" y="548" width="1" height="34" fill="#c0c0c0"/>
<rect x="1550" y="550" width="1" height="32" fill="#c0c0c0"/>
<rect x="1558" y="552" width="1" height="30" fill="#c0c0c0"/>
<rect x="1566" y="554" width="1" height="28" fill="#c0c0c0"/>
<rect x="1574" y="555" width="1" height="27" fill="#c0c0c0"/>
<rect x="1582" y="558" width="1" height="24" fill="#c0c0c0"/>
<rect x="1590" y="559" width="1" height="23" fill="#c0c0c0"/>
<rect x="1598" y="559" width="1" height="23" fill="#c0c0c0"/>
<rect x="1606" y="558" width="1" height="24" fill="#c0c0c0"/>
<rect x="1614" y="558" width="1" height="24" fill="#c0c0c0"/>
<rect x="1622" y="558" width="1" height="24" fill="#c0c0c0"/>
<rect x="1630" y="558" width="1" height="24" fill="#c0c0c0"/>
<rect x="1638" y="557" width="1" height="25" fill="#c0c0c0"/>
<rect x="1646" y="557" width="1" height="25" fill="#c0c0c0"/>
<rect x="1654" y="556" width="1" height="26" fill="#c0c0c0"/>
<rect x="1662" y="556" width="1" height="26" fill="#c0c0c0"/>
<path d="M6 609.5h3M12 610.5h3M18 611.5h3M24 612.5h3M30 612.5h2M32 613.5h1M36 614.5h1M37 615.5h2M42 615.5h1M43 616.5h2M48 616.5h3M54 617.5h3M60 618.5h3M66 618.5h1M67 619.5h2M72 619.5h3M78 620.5h3M84 621.5h1M85 622.5h2M90 622.5h1M91 623.5h2M96 624.5h3M102 626.5h3M108 627.5h1M109 628.5h2M114 629.5h3M120 630.5h1M121 631.5h2M126 632.5h3M132 633.5h3M138 633.5h1M139 634.5h2M144 634.5h3M150 634.5h3M156 634.5h3M162 633.5h3M168 632.5h1M169 631.5h2M174 630.5h2M176 629.5h1M180 628.5h1M181 627.5h2M186 625.5h2M188 624.5h1M192 622.5h2M194 621.5h1M198 619.5h2M200 618.5h1M204 616.5h2M206 615.5h1M210 613.5h1M211 612.5h1M212 611.5h1M216 609.5h2M218 608.5h1M222 606.5h2M224 605.5h1M228 603.5h2M230 602.5h1M234 601.5h1M235 600.5h2M240 598.5h2M242 597.5h1M246 595.5h3M252 594.5h1M253 593.5h2M258 592.5h3M264 591.5h1M265 590.5h2M270 589.5h3M276 588.5h1M277 587.5h2M282 587.5h1M283 586.5h2M288 586.5h3M294 585.5h3M300 584.5h1M301 583.5h2M306 583.5h1M307 582.5h2M312 582.5h3M318 581.5h3M324 580.5h3M330 580.5h3M336 580.5h3M342 581.5h3M348 582.5h3M354 582.5h1M355 583.5h2M360 584.5h3M366 586.5h2M368 587.5h1M372 588.5h1M373 589.5h2M378 590.5h1M379 591.5h2M384 593.5h3M390 595.5h2M392 596.5h1M396 598.5h2M398 599.5h1M402 600.5h3M408 602.5h1M409 603.5h2M414 606.5h2M416 607.5h1M420 608.5h1M421 609.5h2M426 610.5h1M427 611.5h2M432 613.5h2M434 614.5h1M438 616.5h3M444 617.5h1M445 618.5h2M450 618.5h1M451 619.5h2M456 619.5h1M457 620.5h2M462 621.5h3M468 621.5h3M474 621.5h3M480 621.5h3M486 620.5h3M492 619.5h3M498 618.5h3M504 617.5h3M510 616.5h3M516 615.5h3M522 615.5h1M523 614.5h2M528 614.5h3M534 614.5h3M540 615.5h3M546 615.5h1M547 616.5h2M552 617.5h3M558 619.5h2M560 620.5h1M564 621.5h1M565 622.5h2M570 624.5h2M572 625.5h1M576 627.5h1M577 628.5h1M578 629.5h1M582 632.5h2M584 633.5h1M588 635.5h2M590 636.5h1M594 637.5h1M595 638.5h2M600 640.5h3M606 642.5h3M612 643.5h3M618 643.5h3M624 643.5h1M625 642.5h2M630 641.5h3M636 640.5h1M637 639.5h2M642 638.5h1M643 637.5h2M648 635.5h2M650 634.5h1M654 632.5h3M660 631.5h1M661 630.5h2M666 629.5h3M672 628.5h3M678 627.5h3M684 627.5h3M690 627.5h3M696 627.5h3M702 627.5h3M708 627.5h3M714 627.5h1M715 628.5h2M720 628.5h3M726 628.5h3M732 627.5h3M738 627.5h3M744 627.5h3M750 627.5h3M756 627.5h3M762 627.5h3M768 627.5h3M774 628.5h3M780 627.5h3M786 627.5h3M792 627.5h3M798 627.5h3M804 626.5h3M810 625.5h1M811 624.5h2M816 623.5h3M822 622.5h3M828 621.5h1M829 620.5h2M834 619.5h3M840 618.5h3M846 617.5h3M852 616.5h3M858 616.5h3M864 616.5h3M870 617.5h3M876 618.5h3M882 618.5h1M883 619.5h2M888 620.5h3M894 622.5h2M896 623.5h1M900 624.5h1M901 625.5h2M906 625.5h1M907 626.5h2M912 626.5h3M918 626.5h3M924 625.5h3M930 624.5h1M931 623.5h2M936 621.5h3M942 619.5h1M943 618.5h2M948 615.5h2M950 614.5h1M954 612.5h2M956 611.5h1M960 608.5h1M961 607.5h2M966 603.5h1M967 602.5h2M972 599.5h2M974 598.5h1M978 595.5h1M979 594.5h2M984 591.5h1M985 590.5h1M986 589.5h1M990 586.5h2M992 585.5h1M996 583.5h2M998 582.5h1M1002 580.5h2M1004 579.5h1M1008 577.5h3M1014 575.5h2M1016 574.5h1M1020 573.5h1M1021 572.5h2M1026 571.5h3M1032 569.5h3M1038 567.5h2M1040 566.5h1M1044 564.5h2M1046 563.5h1M1050 562.5h1M1051 561.5h2M1056 560.5h1M1057 559.5h2M1062 558.5h2M1064 557.5h1M1068 556.5h1M1069 555.5h2M1074 555.5h1M1075 554.5h2M1080 554.5h3M1086 553.5h2M1088 552.5h1M1092 551.5h1M1093 550.5h2M1098 550.5h3M1104 550.5h3M1110 550.5h3M1116 551.5h1M1117 552.5h2M1122 553.5h3M1128 554.5h3M1134 555.5h3M1140 556.5h3M1146 556.5h1M1147 557.5h2M1152 557.5h3M1158 557.5h3M1164 557.5h3M1170 557.5h3M1176 557.5h3M1182 556.5h3M1188 556.5h3M1194 556.5h1M1195 555.5h2M1200 555.5h3M1206 556.5h3M1212 557.5h3M1218 558.5h3M1224 560.5h3M1230 562.5h2M1232 563.5h1M1236 564.5h1M1237 565.5h2M1242 566.5h1M1243 567.5h2M1248 569.5h2M1250 570.5h1M1254 572.5h2M1256 573.5h1M1260 574.5h1M1261 575.5h2M1266 576.5h1M1267 577.5h2M1272 579.5h3M1278 581.5h3M1284 582.5h1M1285 583.5h2M1290 583.5h1M1291 584.5h2M1296 584.5h3M1302 585.5h3M1308 586.5h3M1314 586.5h3M1320 586.5h3M1326 586.5h3M1332 586.5h3M1338 586.5h3M1344 586.5h3M1350 586.5h3M1356 585.5h3M1362 585.5h1M1363 584.5h2M1368 584.5h3M1374 583.5h3M1380 582.5h3M1386 581.5h3M1392 579.5h3M1398 577.5h3M1404 576.5h1M1405 575.5h2M1410 573.5h2M1412 572.5h1M1416 570.5h2M1418 569.5h1M1422 567.5h2M1424 566.5h1M1428 565.5h1M1429 564.5h2M1434 563.5h1M1435 562.5h2M1440 561.5h1M1441 560.5h2M1446 559.5h3M1452 558.5h1M1453 557.5h2M1458 556.5h3M1464 555.5h3M1470 555.5h3M1476 554.5h3M1482 554.5h3M1488 554.5h3M1494 553.5h3M1500 554.5h3M1506 554.5h1M1507 553.5h2M1512 553.5h3M1518 553.5h3M1524 552.5h3M1530 552.5h1M1531 551.5h2M1536 551.5h3M1542 550.5h3M1548 550.5h3M1554 550.5h1M1555 549.5h2M1560 549.5h3M1566 550.5h3M1572 550.5h3M1578 550.5h1M1579 551.5h2M1584 551.5h3M1590 552.5h3M1596 553.5h3M1602 553.5h1M1603 554.5h2M1608 554.5h3M1614 555.5h3M1620 556.5h3M1626 556.5h1M1627 557.5h2M1632 557.5h3M1638 557.5h3M1644 557.5h3M1650 557.5h3M1656 557.5h1M1657 556.5h2" fill="none" stroke="#ff0000" stroke-width="1" />
<text x="1685" y="548.8" font-size="9.6" fill="#000" stroke="#000" stroke-width="0.1" textLength="33" lengthAdjust="spacingAndGlyphs" >66.0117</text>
<text x="1685" y="584.8" font-size="9.6" fill="#000" stroke="#000" stroke-width="0.1" textLength="17.8" lengthAdjust="spacingAndGlyphs" >0.00</text>
<text x="1685" y="659" font-size="9.6" fill="#000" stroke="#000" stroke-width="0.1" textLength="36.5" lengthAdjust="spacingAndGlyphs" >-126.173</text>
<rect x="1682" y="540" width="2" height="1" fill="#000"/>
<rect x="1682" y="581" width="2" height="1" fill="#000"/>
<rect x="1682" y="660" width="2" height="1" fill="#000"/>
<text x="10.3" y="677" font-size="9.6" fill="#000" stroke="#000" stroke-width="0.1" textLength="67.7" lengthAdjust="spacingAndGlyphs" >RSI(14) 66.3450</text>
<line x1="7" y1="696.5" x2="1681" y2="696.5" stroke="#c0c0c0" stroke-width="1" stroke-dasharray="3 3"/>
<line x1="7" y1="738.5" x2="1681" y2="738.5" stroke="#c0c0c0" stroke-width="1" stroke-dasharray="3 3"/>
<path d="M6 752.5h1M7.5 750v2M8.5 748v2M9.5 746v2M10.5 744v2M11.5 742v2M12.5 740v2M13.5 738v2M14 737.5h1M15 738.5h1M16 739.5h1M17 740.5h2M19 741.5h1M20 742.5h1M21 743.5h1M22 744.5h5M27 745.5h5M32 746.5h3M35 747.5h2M37 748.5h2M39 747.5h2M41 746.5h1M42 745.5h1M43 744.5h2M45 743.5h1M46 742.5h5M51 743.5h5M56 744.5h3M59 745.5h2M61 746.5h4M65 747.5h4M69 748.5h3M72 749.5h3M75 750.5h2M77 751.5h4M81 752.5h4M85 753.5h6M91 754.5h16M107 755.5h4M111 754.5h2M113 753.5h2M115 752.5h1M116 751.5h2M118 750.5h1M119.5 748v2M120.5 746v2M121.5 744v2M122 743.5h1M123.5 741v2M124.5 739v2M125.5 737v2M126 736.5h2M128 737.5h3M131 738.5h2M133 739.5h2M135 738.5h1M136 737.5h1M137 736.5h1M138.5 734v2M139 733.5h1M140 732.5h1M141 731.5h1M142 730.5h1M143 729.5h2M145 728.5h1M146 727.5h1M147 726.5h2M149 725.5h1M150 724.5h1M151 725.5h1M152.5 726v2M153 728.5h1M154 729.5h1M155 730.5h1M156.5 731v2M157 733.5h1M158 734.5h1M159.5 732v2M160 731.5h1M161 730.5h1M162.5 728v2M163 727.5h1M164 726.5h1M165.5 724v2M166 723.5h3M169 722.5h4M173 721.5h2M175 720.5h1M176 719.5h1M177 718.5h1M178 717.5h1M179 716.5h1M180 715.5h1M181 714.5h1M182 713.5h13M195 714.5h8M203 713.5h6M209 712.5h4M213 711.5h2M215 712.5h1M216.5 713v2M217 715.5h1M218 716.5h1M219 717.5h1M220.5 718v2M221 720.5h1M222 721.5h3M225 722.5h4M229 723.5h2M231 722.5h2M233 721.5h2M235 720.5h1M236 719.5h2M238 718.5h5M243 717.5h6M249 716.5h4M253 715.5h4M257 716.5h4M261 717.5h2M263 716.5h2M265 715.5h2M267 714.5h1M268 713.5h2M270 712.5h3M273 711.5h4M277 710.5h3M280 711.5h3M283 712.5h2M285 713.5h11M296 714.5h2M298 715.5h2M300 716.5h2M302 717.5h9M311 718.5h2M313 719.5h2M315 720.5h1M316 721.5h2M318 722.5h5M323 721.5h4M327 722.5h2M329 723.5h1M330 724.5h1M331 725.5h2M333 726.5h1M334 727.5h5M339 726.5h4M343 727.5h2M345 728.5h2M347 729.5h1M348 730.5h2M350 731.5h2M352 730.5h2M354 729.5h2M356 728.5h2M358 727.5h1M359 728.5h2M361 729.5h1M362 730.5h1M363 731.5h2M365 732.5h1M366 733.5h1M367 732.5h1M368 731.5h1M369 730.5h1M370.5 728v2M371 727.5h1M372 726.5h1M373 725.5h1M374 724.5h1M375.5 725v2M376 727.5h1M377 728.5h1M378.5 729v2M379 731.5h1M380 732.5h1M381.5 733v2M382 735.5h5M387 736.5h24M411 735.5h4M415 736.5h2M417 737.5h1M418 738.5h1M419 739.5h2M421 740.5h1M422 741.5h1M423 740.5h1M424 739.5h1M425 738.5h1M426.5 736v2M427 735.5h1M428 734.5h1M429 733.5h1M430 732.5h2M432 731.5h3M435 730.5h2M437 729.5h10M447 728.5h2M449 727.5h2M451 726.5h1M452 725.5h2M454 724.5h1M455 725.5h1M456 726.5h1M457 727.5h1M458.5 728v2M459 730.5h1M460 731.5h1M461 732.5h1M462 733.5h1M463.5 731v2M464.5 729v2M465.5 727v2M466 726.5h1M467.5 724v2M468.5 722v2M469.5 720v2M470 719.5h2M472 720.5h3M475 721.5h2M477 722.5h4M481 723.5h4M485 724.5h12M497 725.5h4M501 726.5h6M507 727.5h5M512 728.5h3M515 729.5h2M517 730.5h10M527 731.5h1M528 732.5h1M529 733.5h1M530 734.5h1M531 735.5h1M532 736.5h1M533 737.5h1M534 738.5h3M537 737.5h4M541 736.5h4M545 737.5h4M549 738.5h3M552 739.5h2M554 740.5h2M556 741.5h2M558 742.5h2M560 743.5h3M563 744.5h2M565 745.5h6M571 746.5h6M577 747.5h4M581 748.5h2M582 747.5h1M583.5 745v2M584.5 742v3M585.5 739v3M586.5 737v2M587.5 734v3M588.5 731v3M589.5 729v2M590.5 727v2M591 727.5h2M593 726.5h4M597 725.5h2M599 726.5h2M601 727.5h2M603 728.5h1M604 729.5h2M606 730.5h1M607.5 728v2M608.5 726v2M609.5 724v2M610 723.5h1M611.5 721v2M612.5 719v2M613.5 717v2M614 716.5h9M623 717.5h1M624 718.5h1M625 719.5h1M626 720.5h1M627 721.5h1M628 722.5h1M629 723.5h1M630 724.5h11M641 725.5h4M645 726.5h2M647 727.5h1M648 728.5h1M649 729.5h2M651 730.5h1M652 731.5h1M653 732.5h1M654 733.5h2M656 732.5h2M658 731.5h2M660 730.5h2M662 729.5h2M664 728.5h2M666 727.5h2M668 726.5h2M670 725.5h5M675 724.5h4M679 725.5h2M681 726.5h2M683 727.5h1M684 728.5h2M686 729.5h1M687 728.5h1M688 727.5h1M689 726.5h2M691 725.5h1M692 724.5h1M693 723.5h1M694 722.5h5M699 721.5h4M703 722.5h2M705 723.5h1M706 724.5h1M707 725.5h2M709 726.5h1M710 727.5h5M715 728.5h28M743 727.5h2M745 726.5h2M747 725.5h1M748 724.5h2M750 723.5h1M751 724.5h1M752.5 725v2M753 727.5h1M754 728.5h1M755 729.5h1M756.5 730v2M757 732.5h1M758 733.5h1M759 732.5h1M760 731.5h1M761 730.5h2M763 729.5h1M764 728.5h1M765 727.5h1M766 726.5h3M769 727.5h4M773 728.5h2M775 727.5h2M777 726.5h1M778 725.5h1M779 724.5h2M781 723.5h1M782 722.5h10M792 723.5h3M795 724.5h2M797 725.5h6M803 724.5h4M807 723.5h1M808 722.5h1M809 721.5h2M811 720.5h1M812 719.5h1M813 718.5h1M814 717.5h5M819 718.5h5M824 719.5h2M826 720.5h2M828 721.5h2M830 722.5h1M831 723.5h2M833 724.5h1M834 725.5h1M835 726.5h2M837 727.5h1M838 728.5h9M847 729.5h2M849 730.5h2M851 731.5h1M852 732.5h2M854 733.5h13M867 732.5h8M875 731.5h8M883 732.5h6M889 731.5h4M893 730.5h3M896 729.5h2M898 728.5h2M900 727.5h2M902 726.5h2M904 725.5h3M907 724.5h2M909 723.5h3M912 722.5h2M914 721.5h2M916 720.5h2M918 719.5h5M923 718.5h4M927 717.5h1M928 716.5h1M929 715.5h2M931 714.5h1M932 713.5h1M933 712.5h1M934 711.5h2M936 710.5h3M939 709.5h2M941 708.5h4M945 709.5h4M949 710.5h6M955 711.5h4M959 710.5h2M961 709.5h2M963 708.5h1M964 707.5h2M966 706.5h1M967 707.5h1M968 708.5h1M969 709.5h2M971 710.5h1M972 711.5h1M973 712.5h1M974 713.5h2M976 712.5h2M978 711.5h2M980 710.5h2M982 709.5h5M987 708.5h14M1001 709.5h4M1005 710.5h3M1008 711.5h2M1010 712.5h2M1012 713.5h2M1014 714.5h9M1023.5 712v2M1024.5 710v2M1025.5 708v2M1026 707.5h1M1027.5 705v2M1028.5 703v2M1029.5 701v2M1030 700.5h3M1033 699.5h4M1037 698.5h4M1041 697.5h4M1045 696.5h2M1047 697.5h1M1048 698.5h1M1049 699.5h1M1050 700.5h1M1051 701.5h1M1052 702.5h1M1053 703.5h1M1054 704.5h5M1059 705.5h4M1063 706.5h2M1065 707.5h2M1067 708.5h1M1068 709.5h2M1070 710.5h5M1075 711.5h8M1083 710.5h8M1091 711.5h4M1095 712.5h2M1097 713.5h2M1099 714.5h1M1100 715.5h2M1102 716.5h2M1104 715.5h3M1107 714.5h2M1109 713.5h4M1113 714.5h4M1117 715.5h3M1120 714.5h2M1122 713.5h2M1124 712.5h2M1126 711.5h1M1127 710.5h2M1129 709.5h1M1130 708.5h1M1131 707.5h2M1133 706.5h1M1134 705.5h3M1137 704.5h4M1141 703.5h22M1163 702.5h5M1168 703.5h2M1170 704.5h2M1172 705.5h2M1174 706.5h3M1177 705.5h4M1181 704.5h2M1183 705.5h1M1184 706.5h1M1185 707.5h1M1186.5 708v2M1187 710.5h1M1188 711.5h1M1189 712.5h1M1190 713.5h2M1192 714.5h2M1194 715.5h2M1196 716.5h2M1198 717.5h5M1203 718.5h4M1207 719.5h2M1209 720.5h2M1211 721.5h1M1212 722.5h2M1214 723.5h5M1219 724.5h13M1232 725.5h2M1234 726.5h2M1236 727.5h2M1238 728.5h2M1240 727.5h3M1243 726.5h2M1245 725.5h4M1249 724.5h4M1253 723.5h4M1257 722.5h4M1261 721.5h6M1267 720.5h8M1275 719.5h6M1281 718.5h4M1285 717.5h4M1289 718.5h4M1293 719.5h4M1297 720.5h4M1301 721.5h6M1307 720.5h4M1311 719.5h2M1313 718.5h1M1314 717.5h1M1315 716.5h2M1317 715.5h1M1318 714.5h1M1319 715.5h1M1320 716.5h1M1321 717.5h1M1322.5 718v2M1323 720.5h1M1324 721.5h1M1325 722.5h1M1326 723.5h13M1339 722.5h4M1343 721.5h1M1344 720.5h1M1345 719.5h1M1346 718.5h1M1347 717.5h1M1348 716.5h1M1349 715.5h1M1350 714.5h1M1351 713.5h1M1352 712.5h1M1353 711.5h1M1354 710.5h1M1355 709.5h1M1356 708.5h1M1357 707.5h1M1358 706.5h3M1361 705.5h4M1365 704.5h4M1369 705.5h4M1373 706.5h2M1375 705.5h2M1377 704.5h2M1379 703.5h1M1380 702.5h2M1382 701.5h1M1383 700.5h2M1385 699.5h2M1387 698.5h1M1388 697.5h2M1390 696.5h5M1395 695.5h4M1399 696.5h1M1400 697.5h1M1401 698.5h1M1402 699.5h1M1403 700.5h1M1404 701.5h1M1405 702.5h1M1406 703.5h1M1407 702.5h1M1408 701.5h1M1409 700.5h1M1410 699.5h1M1411 698.5h1M1412 697.5h1M1413 696.5h1M1414 695.5h5M1419 694.5h8M1427 695.5h4M1431.5 696v2M1432.5 698v2M1433 700.5h1M1434.5 701v2M1435 703.5h1M1436.5 704v2M1437.5 706v2M1438 708.5h13M1451 709.5h6M1457 708.5h4M1461 707.5h6M1467 706.5h4M1471 705.5h2M1473 704.5h2M1475 703.5h1M1476 702.5h2M1478 701.5h2M1480 700.5h2M1482 699.5h2M1484 698.5h2M1486 697.5h10M1496 698.5h3M1499 699.5h2M1501 700.5h3M1504 699.5h2M1506 698.5h2M1508 697.5h2M1510 696.5h1M1511.5 697v2M1512 699.5h1M1513 700.5h1M1514.5 701v2M1515 703.5h1M1516 704.5h1M1517.5 705v2M1518 707.5h1M1519 706.5h1M1520 705.5h1M1521 704.5h1M1522 703.5h1M1523 702.5h1M1524 701.5h1M1525 700.5h1M1526 699.5h3M1529 700.5h4M1533 701.5h6M1539 700.5h4M1543 701.5h1M1544 702.5h1M1545 703.5h1M1546 704.5h1M1547 705.5h1M1548 706.5h1M1549 707.5h1M1550 708.5h5M1555 709.5h13M1568 708.5h2M1570 707.5h2M1572 706.5h2M1574 705.5h1M1575 706.5h2M1577 707.5h1M1578 708.5h1M1579 709.5h2M1581 710.5h1M1582 711.5h3M1585 710.5h4M1589 709.5h4M1593 708.5h4M1597 707.5h3M1600 706.5h2M1602 705.5h2M1604 704.5h2M1606 703.5h3M1609 704.5h4M1613 705.5h6M1619 704.5h6M1625 703.5h4M1629 702.5h3M1632 701.5h3M1635 700.5h2M1637 699.5h6M1643 700.5h19" fill="none" stroke="#1e90ff" stroke-width="1" />
<text x="1685" y="674.8" font-size="9.6" fill="#000" stroke="#000" stroke-width="0.1" textLength="14.8" lengthAdjust="spacingAndGlyphs" >100</text>
<text x="1685" y="699.6" font-size="9.6" fill="#000" stroke="#000" stroke-width="0.1" textLength="9.4" lengthAdjust="spacingAndGlyphs" >70</text>
<text x="1685" y="741.4" font-size="9.6" fill="#000" stroke="#000" stroke-width="0.1" textLength="9.4" lengthAdjust="spacingAndGlyphs" >30</text>
<text x="1685" y="765.6" font-size="9.6" fill="#000" stroke="#000" stroke-width="0.1" textLength="4.7" lengthAdjust="spacingAndGlyphs" >0</text>
<rect x="1682" y="665" width="2" height="1" fill="#000"/>
<rect x="1682" y="768" width="1" height="1" fill="#000"/>
<rect x="6" y="770" width="1" height="3" fill="#000"/>
<text x="5" y="782.3" font-size="9.6" fill="#000" stroke="#000" stroke-width="0.1" textLength="52.2" lengthAdjust="spacingAndGlyphs" >26 Feb 2020</text>
<rect x="70" y="770" width="1" height="3" fill="#000"/>
<text x="69" y="782.3" font-size="9.6" fill="#000" stroke="#000" stroke-width="0.1" textLength="54.8" lengthAdjust="spacingAndGlyphs" >27 Feb 16:00</text>
<rect x="134" y="770" width="1" height="3" fill="#000"/>
<text x="133" y="782.3" font-size="9.6" fill="#000" stroke="#000" stroke-width="0.1" textLength="49.6" lengthAdjust="spacingAndGlyphs" >1 Mar 23:00</text>
<rect x="198" y="770" width="1" height="3" fill="#000"/>
<text x="197" y="782.3" font-size="9.6" fill="#000" stroke="#000" stroke-width="0.1" textLength="49.6" lengthAdjust="spacingAndGlyphs" >3 Mar 04:00</text>
<rect x="262" y="770" width="1" height="3" fill="#000"/>
<text x="261" y="782.3" font-size="9.6" fill="#000" stroke="#000" stroke-width="0.1" textLength="49.6" lengthAdjust="spacingAndGlyphs" >4 Mar 12:00</text>
<rect x="326" y="770" width="1" height="3" fill="#000"/>
<text x="325" y="782.3" font-size="9.6" fill="#000" stroke="#000" stroke-width="0.1" textLength="49.6" lengthAdjust="spacingAndGlyphs" >5 Mar 20:00</text>
<rect x="390" y="770" width="1" height="3" fill="#000"/>
<text x="389" y="782.3" font-size="9.6" fill="#000" stroke="#000" stroke-width="0.1" textLength="49.6" lengthAdjust="spacingAndGlyphs" >9 Mar 00:00</text>
<rect x="454" y="770" width="1" height="3" fill="#000"/>
<text x="453" y="782.3" font-size="9.6" fill="#000" stroke="#000" stroke-width="0.1" textLength="54.8" lengthAdjust="spacingAndGlyphs" >10 Mar 08:00</text>
<rect x="518" y="770" width="1" height="3" fill="#000"/>
<text x="517" y="782.3" font-size="9.6" fill="#000" stroke="#000" stroke-width="0.1" textLength="54.8" lengthAdjust="spacingAndGlyphs" >11 Mar 16:00</text>
<rect x="582" y="770" width="1" height="3" fill="#000"/>
<text x="581" y="782.3" font-size="9.6" fill="#000" stroke="#000" stroke-width="0.1" textLength="54.8" lengthAdjust="spacingAndGlyphs" >13 Mar 00:00</text>
<rect x="646" y="770" width="1" height="3" fill="#000"/>
<text x="645" y="782.3" font-size="9.6" fill="#000" stroke="#000" stroke-width="0.1" textLength="54.8" lengthAdjust="spacingAndGlyphs" >16 Mar 12:00</text>
<rect x="710" y="770" width="1" height="3" fill="#000"/>
<text x="709" y="782.3" font-size="9.6" fill="#000" stroke="#000" stroke-width="0.1" textLength="54.8" lengthAdjust="spacingAndGlyphs" >17 Mar 20:00</text>
<rect x="774" y="770" width="1" height="3" fill="#000"/>
<text x="773" y="782.3" font-size="9.6" fill="#000" stroke="#000" stroke-width="0.1" textLength="54.8" lengthAdjust="spacingAndGlyphs" >19 Mar 08:00</text>
<rect x="838" y="770" width="1" height="3" fill="#000"/>
<text x="837" y="782.3" font-size="9.6" fill="#000" stroke="#000" stroke-width="0.1" textLength="54.8" lengthAdjust="spacingAndGlyphs" >20 Mar 16:00</text>
<rect x="902" y="770" width="1" height="3" fill="#000"/>
<text x="901" y="782.3" font-size="9.6" fill="#000" stroke="#000" stroke-width="0.1" textLength="54.8" lengthAdjust="spacingAndGlyphs" >23 Mar 20:00</text>
<rect x="966" y="770" width="1" height="3" fill="#000"/>
<text x="965" y="782.3" font-size="9.6" fill="#000" stroke="#000" stroke-width="0.1" textLength="54.8" lengthAdjust="spacingAndGlyphs" >25 Mar 04:00</text>
<rect x="1030" y="770" width="1" height="3" fill="#000"/>
<text x="1029" y="782.3" font-size="9.6" fill="#000" stroke="#000" stroke-width="0.1" textLength="54.8" lengthAdjust="spacingAndGlyphs" >26 Mar 12:00</text>
<rect x="1094" y="770" width="1" height="3" fill="#000"/>
<text x="1093" y="782.3" font-size="9.6" fill="#000" stroke="#000" stroke-width="0.1" textLength="54.8" lengthAdjust="spacingAndGlyphs" >27 Mar 20:00</text>
<rect x="1158" y="770" width="1" height="3" fill="#000"/>
<text x="1157" y="782.3" font-size="9.6" fill="#000" stroke="#000" stroke-width="0.1" textLength="54.8" lengthAdjust="spacingAndGlyphs" >31 Mar 00:00</text>
<rect x="1222" y="770" width="1" height="3" fill="#000"/>
<text x="1221" y="782.3" font-size="9.6" fill="#000" stroke="#000" stroke-width="0.1" textLength="48.1" lengthAdjust="spacingAndGlyphs" >1 Apr 08:00</text>
<rect x="1286" y="770" width="1" height="3" fill="#000"/>
<text x="1285" y="782.3" font-size="9.6" fill="#000" stroke="#000" stroke-width="0.1" textLength="48.1" lengthAdjust="spacingAndGlyphs" >2 Apr 16:00</text>
<rect x="1350" y="770" width="1" height="3" fill="#000"/>
<text x="1349" y="782.3" font-size="9.6" fill="#000" stroke="#000" stroke-width="0.1" textLength="48.1" lengthAdjust="spacingAndGlyphs" >5 Apr 23:00</text>
<rect x="1414" y="770" width="1" height="3" fill="#000"/>
<text x="1413" y="782.3" font-size="9.6" fill="#000" stroke="#000" stroke-width="0.1" textLength="48.1" lengthAdjust="spacingAndGlyphs" >7 Apr 04:00</text>
<rect x="1478" y="770" width="1" height="3" fill="#000"/>
<text x="1477" y="782.3" font-size="9.6" fill="#000" stroke="#000" stroke-width="0.1" textLength="48.1" lengthAdjust="spacingAndGlyphs" >8 Apr 12:00</text>
<rect x="1542" y="770" width="1" height="3" fill="#000"/>
<text x="1541" y="782.3" font-size="9.6" fill="#000" stroke="#000" stroke-width="0.1" textLength="48.1" lengthAdjust="spacingAndGlyphs" >9 Apr 20:00</text>
<rect x="1606" y="770" width="1" height="3" fill="#000"/>
<text x="1605" y="782.3" font-size="9.6" fill="#000" stroke="#000" stroke-width="0.1" textLength="53.3" lengthAdjust="spacingAndGlyphs" >14 Apr 00:00</text>
</svg>
</body></html>
